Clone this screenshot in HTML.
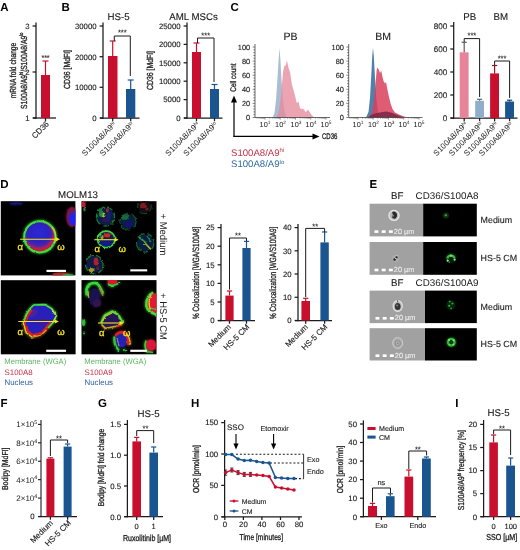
<!DOCTYPE html>
<html><head><meta charset="utf-8"><title>Figure</title>
<style>
html,body{margin:0;padding:0;background:#fff;}
body{width:520px;height:550px;overflow:hidden;}
svg{display:block;font-family:"Liberation Sans",sans-serif;opacity:0.9999;text-rendering:geometricPrecision;}
</style></head><body>
<svg width="520" height="550" viewBox="0 0 520 550">
<rect width="520" height="550" fill="#fff"/>
<text x="0.3" y="11.2" font-size="11.5" text-anchor="start" fill="#000" font-weight="bold" >A</text>
<line x1="36" y1="22.5" x2="36" y2="118.625" stroke="#1c1a1b" stroke-width="1.25" />
<line x1="32.6" y1="26" x2="36" y2="26" stroke="#1c1a1b" stroke-width="1.25" />
<text x="29.6" y="28.808" font-size="7.8" text-anchor="end" fill="#1c1a1b" font-weight="normal" stroke="#1c1a1b" stroke-width="0.12" >3</text>
<line x1="32.6" y1="72" x2="36" y2="72" stroke="#1c1a1b" stroke-width="1.25" />
<text x="29.6" y="74.80799999999999" font-size="7.8" text-anchor="end" fill="#1c1a1b" font-weight="normal" stroke="#1c1a1b" stroke-width="0.12" >2</text>
<line x1="32.6" y1="118" x2="36" y2="118" stroke="#1c1a1b" stroke-width="1.25" />
<text x="29.6" y="120.80799999999999" font-size="7.8" text-anchor="end" fill="#1c1a1b" font-weight="normal" stroke="#1c1a1b" stroke-width="0.12" >1</text>
<line x1="33" y1="118" x2="56" y2="118" stroke="#1c1a1b" stroke-width="1.25" />
<line x1="45.5" y1="118" x2="45.5" y2="121.2" stroke="#1c1a1b" stroke-width="1.25" />
<rect x="41" y="75" width="9" height="43" fill="#c8102e" />
<line x1="45.5" y1="75" x2="45.5" y2="61" stroke="#c8102e" stroke-width="1.2" />
<line x1="42.5" y1="61" x2="48.5" y2="61" stroke="#c8102e" stroke-width="1.2" />
<text x="45.5" y="60.2" font-size="7" text-anchor="middle" fill="#1c1a1b" font-weight="normal" stroke="#1c1a1b" stroke-width="0.12" >***</text>
<text x="49.5" y="124.5" font-size="8" text-anchor="end" fill="#1c1a1b" font-weight="normal" stroke="#1c1a1b" stroke-width="0.12" transform="rotate(-45 49.5 124.5)" >CD36</text>
<text transform="translate(15.9 70.5) rotate(-90) scale(0.7564 1)" x="0" y="0" font-size="8.8" text-anchor="middle" fill="#1c1a1b" stroke="#1c1a1b" stroke-width="0.3">mRNA fold change</text>
<text transform="translate(26.6 70.8) rotate(-90) scale(0.7641 1)" x="0" y="0" font-size="8.8" text-anchor="middle" fill="#1c1a1b" stroke="#1c1a1b" stroke-width="0.3">S100A8/A9<tspan font-size="5.46" dy="-3.17">hi</tspan><tspan dy="3.17">&#8203;</tspan>/S100A8/A9<tspan font-size="5.46" dy="-3.17">lo</tspan><tspan dy="3.17">&#8203;</tspan></text>
<text x="61.5" y="11.2" font-size="11.5" text-anchor="start" fill="#000" font-weight="bold" >B</text>
<text x="118.5" y="19.5" font-size="9.7" text-anchor="middle" fill="#1c1a1b" font-weight="normal" stroke="#1c1a1b" stroke-width="0.12" >HS-5</text>
<line x1="103" y1="22.5" x2="103" y2="118.625" stroke="#1c1a1b" stroke-width="1.25" />
<line x1="99.6" y1="26" x2="103" y2="26" stroke="#1c1a1b" stroke-width="1.25" />
<text x="96.6" y="28.808" font-size="7.8" text-anchor="end" fill="#1c1a1b" font-weight="normal" stroke="#1c1a1b" stroke-width="0.12" >30000</text>
<line x1="99.6" y1="56.7" x2="103" y2="56.7" stroke="#1c1a1b" stroke-width="1.25" />
<text x="96.6" y="59.508" font-size="7.8" text-anchor="end" fill="#1c1a1b" font-weight="normal" stroke="#1c1a1b" stroke-width="0.12" >20000</text>
<line x1="99.6" y1="87.3" x2="103" y2="87.3" stroke="#1c1a1b" stroke-width="1.25" />
<text x="96.6" y="90.108" font-size="7.8" text-anchor="end" fill="#1c1a1b" font-weight="normal" stroke="#1c1a1b" stroke-width="0.12" >10000</text>
<line x1="99.6" y1="118" x2="103" y2="118" stroke="#1c1a1b" stroke-width="1.25" />
<text x="96.6" y="120.80799999999999" font-size="7.8" text-anchor="end" fill="#1c1a1b" font-weight="normal" stroke="#1c1a1b" stroke-width="0.12" >0</text>
<line x1="100" y1="118" x2="139.5" y2="118" stroke="#1c1a1b" stroke-width="1.25" />
<line x1="112.7" y1="118" x2="112.7" y2="121.2" stroke="#1c1a1b" stroke-width="1.25" />
<line x1="130.7" y1="118" x2="130.7" y2="121.2" stroke="#1c1a1b" stroke-width="1.25" />
<rect x="108" y="56" width="9.5" height="62" fill="#c8102e" />
<line x1="112.7" y1="56" x2="112.7" y2="41" stroke="#c8102e" stroke-width="1.2" />
<line x1="109.7" y1="41" x2="115.7" y2="41" stroke="#c8102e" stroke-width="1.2" />
<rect x="126" y="89" width="9.3" height="29" fill="#1a5590" />
<line x1="130.7" y1="89" x2="130.7" y2="80" stroke="#1a5590" stroke-width="1.2" />
<line x1="127.69999999999999" y1="80" x2="133.7" y2="80" stroke="#1a5590" stroke-width="1.2" />
<polyline points="114.3,41 114.3,36 130.3,36 130.3,76" fill="none" stroke="#1c1a1b" stroke-width="1.0"/>
<text x="122.3" y="34.5" font-size="7.5" text-anchor="middle" fill="#1c1a1b" font-weight="normal" stroke="#1c1a1b" stroke-width="0.12" >***</text>
<text transform="translate(69.8 69.5) rotate(-90) scale(0.7819 1)" x="0" y="0" font-size="8.8" text-anchor="middle" fill="#1c1a1b" stroke="#1c1a1b" stroke-width="0.3">CD36 [MdFI]</text>
<text x="116.5" y="125" font-size="8" text-anchor="end" fill="#1c1a1b" transform="rotate(-45 116.5 125)">S100A8/A9<tspan font-size="5" dy="-2.5">hi</tspan></text>
<text x="134.5" y="125" font-size="8" text-anchor="end" fill="#1c1a1b" transform="rotate(-45 134.5 125)">S100A8/A9<tspan font-size="5" dy="-2.5">lo</tspan></text>
<text x="193.5" y="19.5" font-size="9.7" text-anchor="middle" fill="#1c1a1b" font-weight="normal" stroke="#1c1a1b" stroke-width="0.12" >AML MSCs</text>
<line x1="187" y1="22.5" x2="187" y2="118.625" stroke="#1c1a1b" stroke-width="1.25" />
<line x1="183.6" y1="26" x2="187" y2="26" stroke="#1c1a1b" stroke-width="1.25" />
<text x="180.6" y="28.808" font-size="7.8" text-anchor="end" fill="#1c1a1b" font-weight="normal" stroke="#1c1a1b" stroke-width="0.12" >25000</text>
<line x1="183.6" y1="44.4" x2="187" y2="44.4" stroke="#1c1a1b" stroke-width="1.25" />
<text x="180.6" y="47.208" font-size="7.8" text-anchor="end" fill="#1c1a1b" font-weight="normal" stroke="#1c1a1b" stroke-width="0.12" >20000</text>
<line x1="183.6" y1="62.8" x2="187" y2="62.8" stroke="#1c1a1b" stroke-width="1.25" />
<text x="180.6" y="65.608" font-size="7.8" text-anchor="end" fill="#1c1a1b" font-weight="normal" stroke="#1c1a1b" stroke-width="0.12" >15000</text>
<line x1="183.6" y1="81.2" x2="187" y2="81.2" stroke="#1c1a1b" stroke-width="1.25" />
<text x="180.6" y="84.00800000000001" font-size="7.8" text-anchor="end" fill="#1c1a1b" font-weight="normal" stroke="#1c1a1b" stroke-width="0.12" >10000</text>
<line x1="183.6" y1="99.6" x2="187" y2="99.6" stroke="#1c1a1b" stroke-width="1.25" />
<text x="180.6" y="102.40799999999999" font-size="7.8" text-anchor="end" fill="#1c1a1b" font-weight="normal" stroke="#1c1a1b" stroke-width="0.12" >5000</text>
<line x1="183.6" y1="118" x2="187" y2="118" stroke="#1c1a1b" stroke-width="1.25" />
<text x="180.6" y="120.80799999999999" font-size="7.8" text-anchor="end" fill="#1c1a1b" font-weight="normal" stroke="#1c1a1b" stroke-width="0.12" >0</text>
<line x1="184" y1="118" x2="222.5" y2="118" stroke="#1c1a1b" stroke-width="1.25" />
<line x1="196.5" y1="118" x2="196.5" y2="121.2" stroke="#1c1a1b" stroke-width="1.25" />
<line x1="214.5" y1="118" x2="214.5" y2="121.2" stroke="#1c1a1b" stroke-width="1.25" />
<rect x="192" y="52" width="9" height="66" fill="#c8102e" />
<line x1="196.5" y1="52" x2="196.5" y2="43" stroke="#c8102e" stroke-width="1.2" />
<line x1="193.5" y1="43" x2="199.5" y2="43" stroke="#c8102e" stroke-width="1.2" />
<rect x="210" y="89" width="9" height="29" fill="#1a5590" />
<line x1="214.5" y1="89" x2="214.5" y2="84.5" stroke="#1a5590" stroke-width="1.2" />
<line x1="211.5" y1="84.5" x2="217.5" y2="84.5" stroke="#1a5590" stroke-width="1.2" />
<polyline points="197.5,43 197.5,38 214,38 214,82" fill="none" stroke="#1c1a1b" stroke-width="1.0"/>
<text x="205.7" y="37.5" font-size="7.5" text-anchor="middle" fill="#1c1a1b" font-weight="normal" stroke="#1c1a1b" stroke-width="0.12" >***</text>
<text transform="translate(152.6 70.5) rotate(-90) scale(0.7819 1)" x="0" y="0" font-size="8.8" text-anchor="middle" fill="#1c1a1b" stroke="#1c1a1b" stroke-width="0.3">CD36 [MdFI]</text>
<text x="200" y="125" font-size="8" text-anchor="end" fill="#1c1a1b" transform="rotate(-45 200 125)">S100A8/A9<tspan font-size="5" dy="-2.5">hi</tspan></text>
<text x="218" y="125" font-size="8" text-anchor="end" fill="#1c1a1b" transform="rotate(-45 218 125)">S100A8/A9<tspan font-size="5" dy="-2.5">lo</tspan></text>
<text x="230.5" y="11.2" font-size="11.5" text-anchor="start" fill="#000" font-weight="bold" >C</text>
<text x="290.5" y="40" font-size="10.5" text-anchor="middle" fill="#1c1a1b" font-weight="normal" stroke="#1c1a1b" stroke-width="0.12" >PB</text>
<polygon points="272.5,117.5 274.5,113 276,100 277.5,78 278.7,58 279.5,48 280.3,58 281.5,80 283,100 284.5,111 286.5,117.5" fill="#a9bfd1"/>
<polygon points="276.5,117.5 278.5,113 280.5,100 282,84 283,72 284.5,65.5 285.5,66 287,60.5 288.5,67.8 290.2,72.7 291.8,84 293.5,90 295,95.6 296.7,103 298.4,101.4 300,108 301.5,109 303.3,108.7 305.7,112 308.2,109.6 309.5,112 310.6,113.6 313,116.6 314.5,117.5" fill="#e58a9c" fill-opacity="0.78"/>
<line x1="255" y1="44" x2="255" y2="117.5" stroke="#444" stroke-width="0.8" />
<line x1="255" y1="117.5" x2="330" y2="117.5" stroke="#444" stroke-width="0.8" />
<line x1="252.6" y1="117.5" x2="255" y2="117.5" stroke="#333" stroke-width="0.6" />
<line x1="253.4" y1="114.68" x2="255" y2="114.68" stroke="#333" stroke-width="0.6" />
<line x1="253.4" y1="111.86" x2="255" y2="111.86" stroke="#333" stroke-width="0.6" />
<line x1="253.4" y1="109.04" x2="255" y2="109.04" stroke="#333" stroke-width="0.6" />
<line x1="253.4" y1="106.22" x2="255" y2="106.22" stroke="#333" stroke-width="0.6" />
<line x1="252.6" y1="103.4" x2="255" y2="103.4" stroke="#333" stroke-width="0.6" />
<line x1="253.4" y1="100.58" x2="255" y2="100.58" stroke="#333" stroke-width="0.6" />
<line x1="253.4" y1="97.76" x2="255" y2="97.76" stroke="#333" stroke-width="0.6" />
<line x1="253.4" y1="94.94" x2="255" y2="94.94" stroke="#333" stroke-width="0.6" />
<line x1="253.4" y1="92.12" x2="255" y2="92.12" stroke="#333" stroke-width="0.6" />
<line x1="252.6" y1="89.3" x2="255" y2="89.3" stroke="#333" stroke-width="0.6" />
<line x1="253.4" y1="86.48" x2="255" y2="86.48" stroke="#333" stroke-width="0.6" />
<line x1="253.4" y1="83.66" x2="255" y2="83.66" stroke="#333" stroke-width="0.6" />
<line x1="253.4" y1="80.84" x2="255" y2="80.84" stroke="#333" stroke-width="0.6" />
<line x1="253.4" y1="78.02" x2="255" y2="78.02" stroke="#333" stroke-width="0.6" />
<line x1="252.6" y1="75.2" x2="255" y2="75.2" stroke="#333" stroke-width="0.6" />
<line x1="253.4" y1="72.38" x2="255" y2="72.38" stroke="#333" stroke-width="0.6" />
<line x1="253.4" y1="69.56" x2="255" y2="69.56" stroke="#333" stroke-width="0.6" />
<line x1="253.4" y1="66.74" x2="255" y2="66.74" stroke="#333" stroke-width="0.6" />
<line x1="253.4" y1="63.92" x2="255" y2="63.92" stroke="#333" stroke-width="0.6" />
<line x1="252.6" y1="61.1" x2="255" y2="61.1" stroke="#333" stroke-width="0.6" />
<line x1="253.4" y1="58.28" x2="255" y2="58.28" stroke="#333" stroke-width="0.6" />
<line x1="253.4" y1="55.46" x2="255" y2="55.46" stroke="#333" stroke-width="0.6" />
<line x1="253.4" y1="52.64" x2="255" y2="52.64" stroke="#333" stroke-width="0.6" />
<line x1="253.4" y1="49.82" x2="255" y2="49.82" stroke="#333" stroke-width="0.6" />
<line x1="252.6" y1="47.0" x2="255" y2="47.0" stroke="#333" stroke-width="0.6" />
<text x="250.2" y="120.2" font-size="7.4" text-anchor="end" fill="#1c1a1b" font-weight="normal" stroke="#1c1a1b" stroke-width="0.12" >0</text>
<text x="250.2" y="106.1" font-size="7.4" text-anchor="end" fill="#1c1a1b" font-weight="normal" stroke="#1c1a1b" stroke-width="0.12" >20</text>
<text x="250.2" y="92.0" font-size="7.4" text-anchor="end" fill="#1c1a1b" font-weight="normal" stroke="#1c1a1b" stroke-width="0.12" >40</text>
<text x="250.2" y="77.9" font-size="7.4" text-anchor="end" fill="#1c1a1b" font-weight="normal" stroke="#1c1a1b" stroke-width="0.12" >60</text>
<text x="250.2" y="63.8" font-size="7.4" text-anchor="end" fill="#1c1a1b" font-weight="normal" stroke="#1c1a1b" stroke-width="0.12" >80</text>
<text x="250.2" y="49.7" font-size="7.4" text-anchor="end" fill="#1c1a1b" font-weight="normal" stroke="#1c1a1b" stroke-width="0.12" >100</text>
<line x1="257.03" y1="117.5" x2="257.03" y2="118.7" stroke="#444" stroke-width="0.5" />
<line x1="258.93" y1="117.5" x2="258.93" y2="118.7" stroke="#444" stroke-width="0.5" />
<line x1="260.41" y1="117.5" x2="260.41" y2="118.7" stroke="#444" stroke-width="0.5" />
<line x1="261.62" y1="117.5" x2="261.62" y2="118.7" stroke="#444" stroke-width="0.5" />
<line x1="262.64" y1="117.5" x2="262.64" y2="118.7" stroke="#444" stroke-width="0.5" />
<line x1="263.52" y1="117.5" x2="263.52" y2="118.7" stroke="#444" stroke-width="0.5" />
<line x1="264.3" y1="117.5" x2="264.3" y2="118.7" stroke="#444" stroke-width="0.5" />
<line x1="265.0" y1="117.5" x2="265.0" y2="119.7" stroke="#444" stroke-width="0.5" />
<line x1="269.59" y1="117.5" x2="269.59" y2="118.7" stroke="#444" stroke-width="0.5" />
<line x1="272.28" y1="117.5" x2="272.28" y2="118.7" stroke="#444" stroke-width="0.5" />
<line x1="274.18" y1="117.5" x2="274.18" y2="118.7" stroke="#444" stroke-width="0.5" />
<line x1="275.66" y1="117.5" x2="275.66" y2="118.7" stroke="#444" stroke-width="0.5" />
<line x1="276.87" y1="117.5" x2="276.87" y2="118.7" stroke="#444" stroke-width="0.5" />
<line x1="277.89" y1="117.5" x2="277.89" y2="118.7" stroke="#444" stroke-width="0.5" />
<line x1="278.77" y1="117.5" x2="278.77" y2="118.7" stroke="#444" stroke-width="0.5" />
<line x1="279.55" y1="117.5" x2="279.55" y2="118.7" stroke="#444" stroke-width="0.5" />
<line x1="280.25" y1="117.5" x2="280.25" y2="119.7" stroke="#444" stroke-width="0.5" />
<line x1="284.84" y1="117.5" x2="284.84" y2="118.7" stroke="#444" stroke-width="0.5" />
<line x1="287.53" y1="117.5" x2="287.53" y2="118.7" stroke="#444" stroke-width="0.5" />
<line x1="289.43" y1="117.5" x2="289.43" y2="118.7" stroke="#444" stroke-width="0.5" />
<line x1="290.91" y1="117.5" x2="290.91" y2="118.7" stroke="#444" stroke-width="0.5" />
<line x1="292.12" y1="117.5" x2="292.12" y2="118.7" stroke="#444" stroke-width="0.5" />
<line x1="293.14" y1="117.5" x2="293.14" y2="118.7" stroke="#444" stroke-width="0.5" />
<line x1="294.02" y1="117.5" x2="294.02" y2="118.7" stroke="#444" stroke-width="0.5" />
<line x1="294.8" y1="117.5" x2="294.8" y2="118.7" stroke="#444" stroke-width="0.5" />
<line x1="295.5" y1="117.5" x2="295.5" y2="119.7" stroke="#444" stroke-width="0.5" />
<line x1="300.09" y1="117.5" x2="300.09" y2="118.7" stroke="#444" stroke-width="0.5" />
<line x1="302.78" y1="117.5" x2="302.78" y2="118.7" stroke="#444" stroke-width="0.5" />
<line x1="304.68" y1="117.5" x2="304.68" y2="118.7" stroke="#444" stroke-width="0.5" />
<line x1="306.16" y1="117.5" x2="306.16" y2="118.7" stroke="#444" stroke-width="0.5" />
<line x1="307.37" y1="117.5" x2="307.37" y2="118.7" stroke="#444" stroke-width="0.5" />
<line x1="308.39" y1="117.5" x2="308.39" y2="118.7" stroke="#444" stroke-width="0.5" />
<line x1="309.27" y1="117.5" x2="309.27" y2="118.7" stroke="#444" stroke-width="0.5" />
<line x1="310.05" y1="117.5" x2="310.05" y2="118.7" stroke="#444" stroke-width="0.5" />
<line x1="310.75" y1="117.5" x2="310.75" y2="119.7" stroke="#444" stroke-width="0.5" />
<line x1="315.34" y1="117.5" x2="315.34" y2="118.7" stroke="#444" stroke-width="0.5" />
<line x1="318.03" y1="117.5" x2="318.03" y2="118.7" stroke="#444" stroke-width="0.5" />
<line x1="319.93" y1="117.5" x2="319.93" y2="118.7" stroke="#444" stroke-width="0.5" />
<line x1="321.41" y1="117.5" x2="321.41" y2="118.7" stroke="#444" stroke-width="0.5" />
<line x1="322.62" y1="117.5" x2="322.62" y2="118.7" stroke="#444" stroke-width="0.5" />
<line x1="323.64" y1="117.5" x2="323.64" y2="118.7" stroke="#444" stroke-width="0.5" />
<line x1="324.52" y1="117.5" x2="324.52" y2="118.7" stroke="#444" stroke-width="0.5" />
<line x1="325.3" y1="117.5" x2="325.3" y2="118.7" stroke="#444" stroke-width="0.5" />
<line x1="326.0" y1="117.5" x2="326.0" y2="119.7" stroke="#444" stroke-width="0.5" />
<text x="265" y="126.8" font-size="7.3" text-anchor="middle" fill="#1c1a1b">10<tspan font-size="4.8" dy="-3">1</tspan></text>
<text x="280.5" y="126.8" font-size="7.3" text-anchor="middle" fill="#1c1a1b">10<tspan font-size="4.8" dy="-3">2</tspan></text>
<text x="296" y="126.8" font-size="7.3" text-anchor="middle" fill="#1c1a1b">10<tspan font-size="4.8" dy="-3">3</tspan></text>
<text x="311" y="126.8" font-size="7.3" text-anchor="middle" fill="#1c1a1b">10<tspan font-size="4.8" dy="-3">4</tspan></text>
<text x="326" y="126.8" font-size="7.3" text-anchor="middle" fill="#1c1a1b">10<tspan font-size="4.8" dy="-3">5</tspan></text>
<text x="383" y="40" font-size="10.5" text-anchor="middle" fill="#1c1a1b" font-weight="normal" stroke="#1c1a1b" stroke-width="0.12" >BM</text>
<polygon points="366,117.5 368.5,112 370,98 371.3,75 372.3,55 373,48 373.8,56 375,78 376.5,100 378,112 380,117.5" fill="#4f81ab"/>
<polygon points="369.5,117.5 372,112 374,100 375.5,84 376.7,70 377.5,67.5 378.7,69.5 380,73 381.2,70.5 382.3,76 383.5,81 385,83.5 386,82 387.5,90 389,97 390.5,103 392.5,109 395,112.5 399,114.5 404,116.5 408,117.5" fill="#d8405c" fill-opacity="0.85"/>
<polygon points="368,117.5 371,115 375,113.5 380,112.5 386,111.5 391,112.5 396,114.5 401,116.5 404,117.5" fill="#7b2345" fill-opacity="0.85"/>
<line x1="348.7" y1="44" x2="348.7" y2="117.5" stroke="#444" stroke-width="0.8" />
<line x1="348.7" y1="117.5" x2="422.5" y2="117.5" stroke="#444" stroke-width="0.8" />
<line x1="346.3" y1="117.5" x2="348.7" y2="117.5" stroke="#333" stroke-width="0.6" />
<line x1="347.09999999999997" y1="114.68" x2="348.7" y2="114.68" stroke="#333" stroke-width="0.6" />
<line x1="347.09999999999997" y1="111.86" x2="348.7" y2="111.86" stroke="#333" stroke-width="0.6" />
<line x1="347.09999999999997" y1="109.04" x2="348.7" y2="109.04" stroke="#333" stroke-width="0.6" />
<line x1="347.09999999999997" y1="106.22" x2="348.7" y2="106.22" stroke="#333" stroke-width="0.6" />
<line x1="346.3" y1="103.4" x2="348.7" y2="103.4" stroke="#333" stroke-width="0.6" />
<line x1="347.09999999999997" y1="100.58" x2="348.7" y2="100.58" stroke="#333" stroke-width="0.6" />
<line x1="347.09999999999997" y1="97.76" x2="348.7" y2="97.76" stroke="#333" stroke-width="0.6" />
<line x1="347.09999999999997" y1="94.94" x2="348.7" y2="94.94" stroke="#333" stroke-width="0.6" />
<line x1="347.09999999999997" y1="92.12" x2="348.7" y2="92.12" stroke="#333" stroke-width="0.6" />
<line x1="346.3" y1="89.3" x2="348.7" y2="89.3" stroke="#333" stroke-width="0.6" />
<line x1="347.09999999999997" y1="86.48" x2="348.7" y2="86.48" stroke="#333" stroke-width="0.6" />
<line x1="347.09999999999997" y1="83.66" x2="348.7" y2="83.66" stroke="#333" stroke-width="0.6" />
<line x1="347.09999999999997" y1="80.84" x2="348.7" y2="80.84" stroke="#333" stroke-width="0.6" />
<line x1="347.09999999999997" y1="78.02" x2="348.7" y2="78.02" stroke="#333" stroke-width="0.6" />
<line x1="346.3" y1="75.2" x2="348.7" y2="75.2" stroke="#333" stroke-width="0.6" />
<line x1="347.09999999999997" y1="72.38" x2="348.7" y2="72.38" stroke="#333" stroke-width="0.6" />
<line x1="347.09999999999997" y1="69.56" x2="348.7" y2="69.56" stroke="#333" stroke-width="0.6" />
<line x1="347.09999999999997" y1="66.74" x2="348.7" y2="66.74" stroke="#333" stroke-width="0.6" />
<line x1="347.09999999999997" y1="63.92" x2="348.7" y2="63.92" stroke="#333" stroke-width="0.6" />
<line x1="346.3" y1="61.1" x2="348.7" y2="61.1" stroke="#333" stroke-width="0.6" />
<line x1="347.09999999999997" y1="58.28" x2="348.7" y2="58.28" stroke="#333" stroke-width="0.6" />
<line x1="347.09999999999997" y1="55.46" x2="348.7" y2="55.46" stroke="#333" stroke-width="0.6" />
<line x1="347.09999999999997" y1="52.64" x2="348.7" y2="52.64" stroke="#333" stroke-width="0.6" />
<line x1="347.09999999999997" y1="49.82" x2="348.7" y2="49.82" stroke="#333" stroke-width="0.6" />
<line x1="346.3" y1="47.0" x2="348.7" y2="47.0" stroke="#333" stroke-width="0.6" />
<text x="343.9" y="120.2" font-size="7.4" text-anchor="end" fill="#1c1a1b" font-weight="normal" stroke="#1c1a1b" stroke-width="0.12" >0</text>
<text x="343.9" y="106.1" font-size="7.4" text-anchor="end" fill="#1c1a1b" font-weight="normal" stroke="#1c1a1b" stroke-width="0.12" >20</text>
<text x="343.9" y="92.0" font-size="7.4" text-anchor="end" fill="#1c1a1b" font-weight="normal" stroke="#1c1a1b" stroke-width="0.12" >40</text>
<text x="343.9" y="77.9" font-size="7.4" text-anchor="end" fill="#1c1a1b" font-weight="normal" stroke="#1c1a1b" stroke-width="0.12" >60</text>
<text x="343.9" y="63.8" font-size="7.4" text-anchor="end" fill="#1c1a1b" font-weight="normal" stroke="#1c1a1b" stroke-width="0.12" >80</text>
<text x="343.9" y="49.7" font-size="7.4" text-anchor="end" fill="#1c1a1b" font-weight="normal" stroke="#1c1a1b" stroke-width="0.12" >100</text>
<line x1="350.03" y1="117.5" x2="350.03" y2="118.7" stroke="#444" stroke-width="0.5" />
<line x1="351.93" y1="117.5" x2="351.93" y2="118.7" stroke="#444" stroke-width="0.5" />
<line x1="353.41" y1="117.5" x2="353.41" y2="118.7" stroke="#444" stroke-width="0.5" />
<line x1="354.62" y1="117.5" x2="354.62" y2="118.7" stroke="#444" stroke-width="0.5" />
<line x1="355.64" y1="117.5" x2="355.64" y2="118.7" stroke="#444" stroke-width="0.5" />
<line x1="356.52" y1="117.5" x2="356.52" y2="118.7" stroke="#444" stroke-width="0.5" />
<line x1="357.3" y1="117.5" x2="357.3" y2="118.7" stroke="#444" stroke-width="0.5" />
<line x1="358.0" y1="117.5" x2="358.0" y2="119.7" stroke="#444" stroke-width="0.5" />
<line x1="362.59" y1="117.5" x2="362.59" y2="118.7" stroke="#444" stroke-width="0.5" />
<line x1="365.28" y1="117.5" x2="365.28" y2="118.7" stroke="#444" stroke-width="0.5" />
<line x1="367.18" y1="117.5" x2="367.18" y2="118.7" stroke="#444" stroke-width="0.5" />
<line x1="368.66" y1="117.5" x2="368.66" y2="118.7" stroke="#444" stroke-width="0.5" />
<line x1="369.87" y1="117.5" x2="369.87" y2="118.7" stroke="#444" stroke-width="0.5" />
<line x1="370.89" y1="117.5" x2="370.89" y2="118.7" stroke="#444" stroke-width="0.5" />
<line x1="371.77" y1="117.5" x2="371.77" y2="118.7" stroke="#444" stroke-width="0.5" />
<line x1="372.55" y1="117.5" x2="372.55" y2="118.7" stroke="#444" stroke-width="0.5" />
<line x1="373.25" y1="117.5" x2="373.25" y2="119.7" stroke="#444" stroke-width="0.5" />
<line x1="377.84" y1="117.5" x2="377.84" y2="118.7" stroke="#444" stroke-width="0.5" />
<line x1="380.53" y1="117.5" x2="380.53" y2="118.7" stroke="#444" stroke-width="0.5" />
<line x1="382.43" y1="117.5" x2="382.43" y2="118.7" stroke="#444" stroke-width="0.5" />
<line x1="383.91" y1="117.5" x2="383.91" y2="118.7" stroke="#444" stroke-width="0.5" />
<line x1="385.12" y1="117.5" x2="385.12" y2="118.7" stroke="#444" stroke-width="0.5" />
<line x1="386.14" y1="117.5" x2="386.14" y2="118.7" stroke="#444" stroke-width="0.5" />
<line x1="387.02" y1="117.5" x2="387.02" y2="118.7" stroke="#444" stroke-width="0.5" />
<line x1="387.8" y1="117.5" x2="387.8" y2="118.7" stroke="#444" stroke-width="0.5" />
<line x1="388.5" y1="117.5" x2="388.5" y2="119.7" stroke="#444" stroke-width="0.5" />
<line x1="393.09" y1="117.5" x2="393.09" y2="118.7" stroke="#444" stroke-width="0.5" />
<line x1="395.78" y1="117.5" x2="395.78" y2="118.7" stroke="#444" stroke-width="0.5" />
<line x1="397.68" y1="117.5" x2="397.68" y2="118.7" stroke="#444" stroke-width="0.5" />
<line x1="399.16" y1="117.5" x2="399.16" y2="118.7" stroke="#444" stroke-width="0.5" />
<line x1="400.37" y1="117.5" x2="400.37" y2="118.7" stroke="#444" stroke-width="0.5" />
<line x1="401.39" y1="117.5" x2="401.39" y2="118.7" stroke="#444" stroke-width="0.5" />
<line x1="402.27" y1="117.5" x2="402.27" y2="118.7" stroke="#444" stroke-width="0.5" />
<line x1="403.05" y1="117.5" x2="403.05" y2="118.7" stroke="#444" stroke-width="0.5" />
<line x1="403.75" y1="117.5" x2="403.75" y2="119.7" stroke="#444" stroke-width="0.5" />
<line x1="408.34" y1="117.5" x2="408.34" y2="118.7" stroke="#444" stroke-width="0.5" />
<line x1="411.03" y1="117.5" x2="411.03" y2="118.7" stroke="#444" stroke-width="0.5" />
<line x1="412.93" y1="117.5" x2="412.93" y2="118.7" stroke="#444" stroke-width="0.5" />
<line x1="414.41" y1="117.5" x2="414.41" y2="118.7" stroke="#444" stroke-width="0.5" />
<line x1="415.62" y1="117.5" x2="415.62" y2="118.7" stroke="#444" stroke-width="0.5" />
<line x1="416.64" y1="117.5" x2="416.64" y2="118.7" stroke="#444" stroke-width="0.5" />
<line x1="417.52" y1="117.5" x2="417.52" y2="118.7" stroke="#444" stroke-width="0.5" />
<line x1="418.3" y1="117.5" x2="418.3" y2="118.7" stroke="#444" stroke-width="0.5" />
<line x1="419.0" y1="117.5" x2="419.0" y2="119.7" stroke="#444" stroke-width="0.5" />
<text x="358" y="126.8" font-size="7.3" text-anchor="middle" fill="#1c1a1b">10<tspan font-size="4.8" dy="-3">1</tspan></text>
<text x="373.5" y="126.8" font-size="7.3" text-anchor="middle" fill="#1c1a1b">10<tspan font-size="4.8" dy="-3">2</tspan></text>
<text x="389" y="126.8" font-size="7.3" text-anchor="middle" fill="#1c1a1b">10<tspan font-size="4.8" dy="-3">3</tspan></text>
<text x="404" y="126.8" font-size="7.3" text-anchor="middle" fill="#1c1a1b">10<tspan font-size="4.8" dy="-3">4</tspan></text>
<text x="419" y="126.8" font-size="7.3" text-anchor="middle" fill="#1c1a1b">10<tspan font-size="4.8" dy="-3">5</tspan></text>
<text transform="translate(235.7 77.5) rotate(-90) scale(0.7761 1)" x="0" y="0" font-size="8.2" text-anchor="middle" fill="#1c1a1b" stroke="#1c1a1b" stroke-width="0.3">Cell count</text>
<line x1="234" y1="137" x2="234" y2="101" stroke="#000" stroke-width="1.2" />
<polygon points="234,95.5 231,102.5 237,102.5" fill="#000"/>
<line x1="233.4" y1="136.4" x2="314" y2="136.4" stroke="#000" stroke-width="1.2" />
<polygon points="319.5,136.4 312.5,133.4 312.5,139.4" fill="#000"/>
<text transform="translate(322 139.3) rotate(0) scale(0.7393 1)" x="0" y="0" font-size="8.2" text-anchor="start" fill="#1c1a1b" stroke="#1c1a1b" stroke-width="0.3">CD36</text>
<text x="231" y="155.7" font-size="9.6" fill="#c4304a">S100A8/A9<tspan font-size="6" dy="-3.3">hi</tspan></text>
<text x="231" y="167.3" font-size="9.6" fill="#2f6aa0">S100A8/A9<tspan font-size="6" dy="-3.3">lo</tspan></text>
<text x="469.7" y="19.5" font-size="9.7" text-anchor="middle" fill="#1c1a1b" font-weight="normal" stroke="#1c1a1b" stroke-width="0.12" >PB</text>
<text x="500.8" y="19.5" font-size="9.7" text-anchor="middle" fill="#1c1a1b" font-weight="normal" stroke="#1c1a1b" stroke-width="0.12" >BM</text>
<line x1="453.7" y1="22" x2="453.7" y2="118.625" stroke="#1c1a1b" stroke-width="1.25" />
<line x1="450.3" y1="26" x2="453.7" y2="26" stroke="#1c1a1b" stroke-width="1.25" />
<text x="447.3" y="28.916" font-size="8.1" text-anchor="end" fill="#1c1a1b" font-weight="normal" stroke="#1c1a1b" stroke-width="0.12" >800</text>
<line x1="450.3" y1="49" x2="453.7" y2="49" stroke="#1c1a1b" stroke-width="1.25" />
<text x="447.3" y="51.916" font-size="8.1" text-anchor="end" fill="#1c1a1b" font-weight="normal" stroke="#1c1a1b" stroke-width="0.12" >600</text>
<line x1="450.3" y1="72" x2="453.7" y2="72" stroke="#1c1a1b" stroke-width="1.25" />
<text x="447.3" y="74.916" font-size="8.1" text-anchor="end" fill="#1c1a1b" font-weight="normal" stroke="#1c1a1b" stroke-width="0.12" >400</text>
<line x1="450.3" y1="95" x2="453.7" y2="95" stroke="#1c1a1b" stroke-width="1.25" />
<text x="447.3" y="97.916" font-size="8.1" text-anchor="end" fill="#1c1a1b" font-weight="normal" stroke="#1c1a1b" stroke-width="0.12" >200</text>
<line x1="450.3" y1="118" x2="453.7" y2="118" stroke="#1c1a1b" stroke-width="1.25" />
<text x="447.3" y="120.916" font-size="8.1" text-anchor="end" fill="#1c1a1b" font-weight="normal" stroke="#1c1a1b" stroke-width="0.12" >0</text>
<line x1="450.5" y1="118" x2="517.5" y2="118" stroke="#1c1a1b" stroke-width="1.25" />
<line x1="464.2" y1="118" x2="464.2" y2="121.2" stroke="#1c1a1b" stroke-width="1.25" />
<line x1="479.6" y1="118" x2="479.6" y2="121.2" stroke="#1c1a1b" stroke-width="1.25" />
<line x1="494.6" y1="118" x2="494.6" y2="121.2" stroke="#1c1a1b" stroke-width="1.25" />
<line x1="509.6" y1="118" x2="509.6" y2="121.2" stroke="#1c1a1b" stroke-width="1.25" />
<rect x="459.7" y="52.3" width="8.9" height="65.7" fill="#e8849a" />
<line x1="464.2" y1="52.3" x2="464.2" y2="42.3" stroke="#6b5560" stroke-width="1.2" />
<line x1="461.59999999999997" y1="42.3" x2="466.8" y2="42.3" stroke="#6b5560" stroke-width="1.2" />
<rect x="475.2" y="100.8" width="8.8" height="17.2" fill="#8faec9" />
<line x1="479.6" y1="100.8" x2="479.6" y2="99.3" stroke="#5a6a78" stroke-width="1.2" />
<line x1="477.0" y1="99.3" x2="482.20000000000005" y2="99.3" stroke="#5a6a78" stroke-width="1.2" />
<rect x="490.1" y="73.4" width="8.9" height="44.6" fill="#c8102e" />
<line x1="494.6" y1="73.4" x2="494.6" y2="65.5" stroke="#8c1426" stroke-width="1.2" />
<line x1="492.0" y1="65.5" x2="497.20000000000005" y2="65.5" stroke="#8c1426" stroke-width="1.2" />
<rect x="505.1" y="101.5" width="8.9" height="16.5" fill="#1a5590" />
<line x1="509.6" y1="101.5" x2="509.6" y2="100.2" stroke="#173f6a" stroke-width="1.2" />
<line x1="507.0" y1="100.2" x2="512.2" y2="100.2" stroke="#173f6a" stroke-width="1.2" />
<polyline points="464.2,42 464.2,38.6 479.6,38.6 479.6,97" fill="none" stroke="#1c1a1b" stroke-width="1.0"/>
<text x="471.9" y="38.3" font-size="7.5" text-anchor="middle" fill="#1c1a1b" font-weight="normal" stroke="#1c1a1b" stroke-width="0.12" >***</text>
<polyline points="494.6,65 494.6,61 509.6,61 509.6,98" fill="none" stroke="#1c1a1b" stroke-width="1.0"/>
<text x="502.1" y="60.7" font-size="7.5" text-anchor="middle" fill="#1c1a1b" font-weight="normal" stroke="#1c1a1b" stroke-width="0.12" >***</text>
<text x="468" y="125" font-size="8" text-anchor="end" fill="#1c1a1b" transform="rotate(-45 468 125)">S100A8/A9<tspan font-size="5" dy="-2.5">hi</tspan></text>
<text x="483.5" y="125" font-size="8" text-anchor="end" fill="#1c1a1b" transform="rotate(-45 483.5 125)">S100A8/A9<tspan font-size="5" dy="-2.5">lo</tspan></text>
<text x="498.5" y="125" font-size="8" text-anchor="end" fill="#1c1a1b" transform="rotate(-45 498.5 125)">S100A8/A9<tspan font-size="5" dy="-2.5">hi</tspan></text>
<text x="513.5" y="125" font-size="8" text-anchor="end" fill="#1c1a1b" transform="rotate(-45 513.5 125)">S100A8/A9<tspan font-size="5" dy="-2.5">lo</tspan></text>
<text x="0.3" y="188.3" font-size="11.5" text-anchor="start" fill="#000" font-weight="bold" >D</text>
<text x="78" y="197.5" font-size="9.7" text-anchor="middle" fill="#1c1a1b" font-weight="normal" stroke="#1c1a1b" stroke-width="0.12" >MOLM13</text>
<defs>
<filter id="b1" x="-20%" y="-20%" width="140%" height="140%"><feGaussianBlur stdDeviation="0.9"/></filter>
<filter id="b2" x="-20%" y="-20%" width="140%" height="140%"><feGaussianBlur stdDeviation="1.5"/></filter>
<filter id="b05" x="-20%" y="-20%" width="140%" height="140%"><feGaussianBlur stdDeviation="0.5"/></filter>
<filter id="rough" x="-5%" y="-5%" width="110%" height="110%" color-interpolation-filters="sRGB"><feTurbulence type="fractalNoise" baseFrequency="0.35" numOctaves="2" seed="3" result="n"/><feDisplacementMap in="SourceGraphic" in2="n" scale="2.2" xChannelSelector="R" yChannelSelector="G" result="d"/><feGaussianBlur in="d" stdDeviation="1.4" result="g"/><feGaussianBlur in="d" stdDeviation="0.6" result="s"/><feMerge><feMergeNode in="g"/><feMergeNode in="s"/></feMerge></filter>
<filter id="rough2" x="-5%" y="-5%" width="110%" height="110%" color-interpolation-filters="sRGB"><feTurbulence type="fractalNoise" baseFrequency="0.3" numOctaves="2" seed="7" result="n"/><feDisplacementMap in="SourceGraphic" in2="n" scale="3" xChannelSelector="R" yChannelSelector="G" result="d"/><feGaussianBlur in="d" stdDeviation="0.75"/></filter>
<radialGradient id="nuc1" cx="0.5" cy="0.42" r="0.55"><stop offset="0" stop-color="#2c28d8"/><stop offset="0.7" stop-color="#2c22c0"/><stop offset="1" stop-color="#5a2498"/></radialGradient>
<clipPath id="c1"><rect x="0.8" y="201.2" width="74.8" height="74.2"/></clipPath>
<clipPath id="c2"><rect x="81.5" y="201.2" width="75" height="74.2"/></clipPath>
<clipPath id="c3"><rect x="0.8" y="280.2" width="74.8" height="74.1"/></clipPath>
<clipPath id="c4"><rect x="81.5" y="280.1" width="75" height="74.2"/></clipPath>
</defs>
<rect x="0.8" y="201.2" width="74.6" height="74.2" fill="#000" />
<g clip-path="url(#c1)"><g filter="url(#rough)">
<ellipse cx="16" cy="203.6" rx="7" ry="1.3" fill="#1c1c8c" opacity="0.7"/>
<ellipse cx="72" cy="217" rx="5.6" ry="10" fill="#7a1848" opacity="0.9"/>
<ellipse cx="73.2" cy="218.8" rx="4.2" ry="6.6" fill="#2420f0"/>
<circle cx="39.8" cy="236.8" r="15.2" fill="#c81c3c"/>
<ellipse cx="38.8" cy="235.3" rx="14.4" ry="13.2" fill="#8a2488"/>
<ellipse cx="38.6" cy="234.6" rx="13.9" ry="12.3" fill="url(#nuc1)"/>
<circle cx="39.8" cy="236.8" r="15.6" fill="none" stroke="#3be03c" stroke-width="2"/>
<path d="M52,227 A15.6,15.6 0 0 1 54.5,243" fill="none" stroke="#b8d838" stroke-width="1.2"/>
<ellipse cx="61" cy="275" rx="9" ry="2.4" fill="#a82828"/>
<ellipse cx="68" cy="275.6" rx="6" ry="1.6" fill="#3aa83a"/>
</g></g>
<line x1="20" y1="239.3" x2="57" y2="239.3" stroke="#f5e61e" stroke-width="1.1" />
<polygon points="60,239.3 56,237.3 56,241.3" fill="#f5e61e"/>
<text x="20.3" y="250.3" font-size="9.5" text-anchor="middle" fill="#f5e61e" font-weight="normal" stroke="#f5e61e" stroke-width="0.3">α</text>
<text x="61" y="250.3" font-size="9.5" text-anchor="middle" fill="#f5e61e" font-weight="normal" stroke="#f5e61e" stroke-width="0.3">ω</text>
<rect x="46.5" y="269.8" width="19.5" height="2.2" fill="#fff" />
<rect x="81.5" y="201.2" width="75" height="74.2" fill="#000" />
<g clip-path="url(#c2)"><g filter="url(#rough2)">
<ellipse cx="83.5" cy="204" rx="2.2" ry="3.6" fill="#c02030"/><ellipse cx="84.5" cy="209" rx="1.2" ry="2.5" fill="#2a8a2a"/>
<ellipse cx="105.5" cy="216.5" rx="8.2" ry="8.7" fill="#0c1c4a" opacity="1.0"/>
<ellipse cx="103.3" cy="215" rx="2.2" ry="2.4" fill="#a8b828"/><ellipse cx="101" cy="213" rx="2.2" ry="4" fill="#22903a" opacity="0.8"/><ellipse cx="107.5" cy="210.5" rx="1.5" ry="2.2" fill="#b02428"/><ellipse cx="106" cy="220" rx="3.5" ry="2" fill="#3a1458" opacity="0.8"/><ellipse cx="109" cy="216" rx="2.5" ry="4" fill="#14247a" opacity="0.8"/>
<ellipse cx="105.5" cy="216.5" rx="9" ry="9.5" fill="none" stroke="#1f8a38" stroke-width="1.4" opacity="0.85" stroke-dasharray="9 2 6 3 12 2"/>
<ellipse cx="128" cy="221.8" rx="7.2" ry="7.500000000000001" fill="#0a1e40" opacity="1.0"/>
<ellipse cx="125" cy="217.5" rx="4.2" ry="2.4" fill="#1a7a3a" opacity="0.8"/><ellipse cx="129" cy="224" rx="4" ry="4" fill="#10146a"/>
<ellipse cx="128" cy="221.8" rx="8" ry="8.3" fill="none" stroke="#176a34" stroke-width="1.4" opacity="0.8" stroke-dasharray="7 4 10 3 5 2"/>
<ellipse cx="106.3" cy="239.3" rx="7.8999999999999995" ry="7.500000000000001" fill="#101a5c" opacity="1.0"/>
<ellipse cx="107.5" cy="235.3" rx="4" ry="2.1" fill="#d02428"/><ellipse cx="102" cy="237" rx="1.7" ry="1.7" fill="#98a820"/><ellipse cx="106" cy="243.5" rx="5.5" ry="2.6" fill="#161890"/>
<ellipse cx="106.3" cy="239.3" rx="8.7" ry="8.3" fill="none" stroke="#38d43c" stroke-width="1.8" opacity="1.0"/>
<ellipse cx="145.3" cy="242.8" rx="7.8999999999999995" ry="8.399999999999999" fill="#0a1c46" opacity="1.0"/>
<path d="M143,241 L151,249.5" stroke="#b0b420" stroke-width="1.8"/><path d="M139,237 L146,243" stroke="#2c9a3a" stroke-width="1.7"/><path d="M147,236 L151,242" stroke="#228a34" stroke-width="1.1"/>
<ellipse cx="145.3" cy="242.8" rx="8.7" ry="9.2" fill="none" stroke="#1a7a36" stroke-width="1.3" opacity="0.85" stroke-dasharray="8 3 5 2 11 4"/>
<ellipse cx="94.3" cy="264.5" rx="8.0" ry="8.5" fill="#0e1a4a" opacity="1.0"/>
<ellipse cx="96" cy="261.5" rx="2.4" ry="4" fill="#a82428"/><ellipse cx="91.5" cy="270" rx="3" ry="2" fill="#a09820"/><ellipse cx="98" cy="268" rx="1.8" ry="1.8" fill="#7a2020"/>
<ellipse cx="94.3" cy="264.5" rx="8.8" ry="9.3" fill="none" stroke="#1f8236" stroke-width="1.4" opacity="0.9" stroke-dasharray="10 3 6 2 7 3"/>
<ellipse cx="144.5" cy="206.8" rx="6.0" ry="6.0" fill="#180a18" opacity="1.0"/>
<ellipse cx="143.5" cy="205.5" rx="3.4" ry="2.8" fill="#7a1c22"/><ellipse cx="147" cy="209" rx="1.8" ry="1.4" fill="#602020"/>
<ellipse cx="144.5" cy="206.8" rx="6.8" ry="6.8" fill="none" stroke="#185a28" stroke-width="1.2" opacity="0.75" stroke-dasharray="5 3 8 4"/>
</g></g>
<line x1="94.3" y1="239.7" x2="115.7" y2="239.7" stroke="#f5e61e" stroke-width="1.1" />
<polygon points="118.7,239.7 114.7,237.7 114.7,241.7" fill="#f5e61e"/>
<text x="97.3" y="251.8" font-size="9.5" text-anchor="middle" fill="#f5e61e" font-weight="normal" stroke="#f5e61e" stroke-width="0.3">α</text>
<text x="122.3" y="251.8" font-size="9.5" text-anchor="middle" fill="#f5e61e" font-weight="normal" stroke="#f5e61e" stroke-width="0.3">ω</text>
<rect x="130.3" y="269.3" width="16.9" height="2.1" fill="#fff" />
<text transform="translate(159.6 213.5) rotate(90) scale(0.9602 1)" x="0" y="0" font-size="9.9" text-anchor="start" fill="#1c1a1b" stroke="#1c1a1b" stroke-width="0">+ Medium</text>
<rect x="0.8" y="280.2" width="74.8" height="74.1" fill="#000" />
<g clip-path="url(#c3)"><g filter="url(#rough)">
<polygon points="33.75,305 45,304.7 51.75,308.75 56.25,316.25 52.5,323 46.5,329.75 41.25,335 32.25,337.25 26.25,332.75 23.25,323 26.25,314.75 30,308.75" fill="#2820bc"/>
<ellipse cx="42" cy="322" rx="7" ry="5" fill="#3a1c9c" opacity="0.7"/>
<polygon points="30,312 34,309 38,311 35,316 30,318" fill="#5a2090" opacity="0.8"/>
<polyline points="31.5,309.5 27.5,315 25,323 27.5,331.5 32.5,335.5 41,333.5 46,328.5 51,322" fill="none" stroke="#d81c24" stroke-width="3" stroke-linejoin="round"/>
<polyline points="26.25,314.75 23.25,323 26.25,332.75 32.25,337.25" fill="none" stroke="#c8d820" stroke-width="1.3" stroke-linejoin="round"/>
<polyline points="32.25,337.25 41.25,335 46.5,329.75" fill="none" stroke="#d8a020" stroke-width="1.2" stroke-linejoin="round"/>
<polyline points="23.5,321 26.25,314.75 30,308.75 33.75,305 45,304.7 51.75,308.75 56.25,316.25 52.5,323 48,328" fill="none" stroke="#44e03e" stroke-width="1.7" stroke-linejoin="round"/>
<polyline points="51.75,308.75 56.25,316.25 52.5,323" fill="none" stroke="#d0e040" stroke-width="0.9" stroke-linejoin="round"/>
</g></g>
<line x1="18.3" y1="321.5" x2="55.8" y2="321.5" stroke="#f5e61e" stroke-width="1.1" />
<polygon points="58.8,321.5 54.8,319.5 54.8,323.5" fill="#f5e61e"/>
<text x="20.3" y="335" font-size="9.5" text-anchor="middle" fill="#f5e61e" font-weight="normal" stroke="#f5e61e" stroke-width="0.3">α</text>
<text x="61" y="335" font-size="9.5" text-anchor="middle" fill="#f5e61e" font-weight="normal" stroke="#f5e61e" stroke-width="0.3">ω</text>
<rect x="46.2" y="349.7" width="19.8" height="2.2" fill="#fff" />
<rect x="81.5" y="280.1" width="75" height="74.2" fill="#000" />
<g clip-path="url(#c4)"><g filter="url(#rough)">
<ellipse cx="94.5" cy="297" rx="5.5" ry="8.5" fill="#18124e"/>
<ellipse cx="97" cy="303" rx="4" ry="4" fill="#3a1450" opacity="0.8"/>
<path d="M86.8,295 Q85.5,288 89,284.6 Q92.5,282.3 96.5,283.2 Q100,285.5 102.5,293" fill="none" stroke="#36d83a" stroke-width="2.5" stroke-linecap="round"/>
<path d="M99.5,287 L103,296" stroke="#b07838" stroke-width="1.1"/><path d="M88,291 L89,299" stroke="#c8c828" stroke-width="0.9"/>
<ellipse cx="112.3" cy="281.2" rx="4.6" ry="3.4" fill="#d81c30"/><path d="M107.5,284 Q113,287.5 120,282.3" fill="none" stroke="#3ad23c" stroke-width="1.5"/>
<ellipse cx="154.5" cy="303" rx="7.5" ry="9.5" fill="#e01c34"/>
<path d="M153,292.5 Q145.5,296.5 146.3,306 Q148,312.5 156,314.3" fill="none" stroke="#48dc3c" stroke-width="2.3"/>
<path d="M151,295 Q147.3,302 150.5,309.5" fill="none" stroke="#e8d820" stroke-width="1.3"/>
<path d="M150.5,308 L156,309.5" stroke="#3ad23c" stroke-width="1.2"/>
<polygon points="101.5,322.5 104.75,315.5 112.25,311.8 118.25,314.75 122.5,322.5 116,326 105.5,328" fill="#241458"/>
<polyline points="101.2,323 104.75,315.5 112.25,311.5 118.25,314.75 122.75,323" fill="none" stroke="#62d636" stroke-width="2.3" stroke-linejoin="round"/>
<polyline points="102.3,321.5 105.5,316.3 112.25,313" fill="none" stroke="#d8d020" stroke-width="0.9"/>
<polyline points="122.75,323 116,326.2 105.5,328.3 101.5,324.5" fill="none" stroke="#c8a828" stroke-width="1.6" stroke-linejoin="round"/>
<polyline points="116,326.5 121,325" fill="none" stroke="#d83020" stroke-width="1.4"/>
<ellipse cx="121.5" cy="340.5" rx="5.6" ry="6.8" fill="#2222b0"/>
<path d="M116,335 Q119,331.5 124,332.5 Q128.5,336 128.3,344" fill="none" stroke="#d82424" stroke-width="2.4" stroke-linecap="round"/>
<path d="M114.3,336.5 Q113.5,345.5 119,350.5" fill="none" stroke="#38c83c" stroke-width="2"/><path d="M126.5,334 Q130.5,338 129.8,345" fill="none" stroke="#d8c020" stroke-width="1.2"/>
<path d="M117,338 L119,346" stroke="#d0a070" stroke-width="0.9"/><path d="M123,349 L126,351" stroke="#3ab83c" stroke-width="1.2"/>
<ellipse cx="151" cy="345" rx="5" ry="5.6" fill="#d81838"/><path d="M146,340.5 Q143.6,347 147.5,352.5" fill="none" stroke="#3ad03c" stroke-width="1.6"/><path d="M147,351.5 L153,352.5" stroke="#3ab83c" stroke-width="1.3"/>
<ellipse cx="83.6" cy="322.5" rx="1.6" ry="3.4" fill="#30b838"/><ellipse cx="84" cy="333" rx="1.1" ry="1.4" fill="#30a838"/>
</g></g>
<line x1="98" y1="323" x2="120.5" y2="323" stroke="#f5e61e" stroke-width="1.1" />
<polygon points="123.5,323 119.5,321 119.5,325" fill="#f5e61e"/>
<text x="101.8" y="335.8" font-size="9.5" text-anchor="middle" fill="#f5e61e" font-weight="normal" stroke="#f5e61e" stroke-width="0.3">α</text>
<text x="126.7" y="335.8" font-size="9.5" text-anchor="middle" fill="#f5e61e" font-weight="normal" stroke="#f5e61e" stroke-width="0.3">ω</text>
<rect x="130.3" y="349.7" width="16.5" height="2.2" fill="#fff" />
<text transform="translate(159.8 293) rotate(90) scale(0.9743 1)" x="0" y="0" font-size="9.7" text-anchor="start" fill="#1c1a1b" stroke="#1c1a1b" stroke-width="0">+ HS-5 CM</text>
<text transform="translate(4.3 363.6) rotate(0) scale(0.9674 1)" x="0" y="0" font-size="7.9" text-anchor="start" fill="#5cb860" stroke="#5cb860" stroke-width="0">Membrane (WGA)</text>
<text x="4.5" y="375" font-size="7.9" text-anchor="start" fill="#c8304a" font-weight="normal" stroke="none">S100A8</text>
<text x="4.5" y="385.3" font-size="7.9" text-anchor="start" fill="#2f5f98" font-weight="normal" stroke="none">Nucleus</text>
<text transform="translate(84.3 363.6) rotate(0) scale(0.9674 1)" x="0" y="0" font-size="7.9" text-anchor="start" fill="#5cb860" stroke="#5cb860" stroke-width="0">Membrane (WGA)</text>
<text x="84.5" y="375" font-size="7.9" text-anchor="start" fill="#c8304a" font-weight="normal" stroke="none">S100A9</text>
<text x="84.5" y="385.3" font-size="7.9" text-anchor="start" fill="#2f5f98" font-weight="normal" stroke="none">Nucleus</text>
<line x1="221" y1="224" x2="221" y2="321.125" stroke="#1c1a1b" stroke-width="1.25" />
<line x1="217.6" y1="227.6" x2="221" y2="227.6" stroke="#1c1a1b" stroke-width="1.25" />
<text x="214.6" y="230.408" font-size="7.8" text-anchor="end" fill="#1c1a1b" font-weight="normal" stroke="#1c1a1b" stroke-width="0.12" >25</text>
<line x1="217.6" y1="246.2" x2="221" y2="246.2" stroke="#1c1a1b" stroke-width="1.25" />
<text x="214.6" y="249.00799999999998" font-size="7.8" text-anchor="end" fill="#1c1a1b" font-weight="normal" stroke="#1c1a1b" stroke-width="0.12" >20</text>
<line x1="217.6" y1="264.8" x2="221" y2="264.8" stroke="#1c1a1b" stroke-width="1.25" />
<text x="214.6" y="267.608" font-size="7.8" text-anchor="end" fill="#1c1a1b" font-weight="normal" stroke="#1c1a1b" stroke-width="0.12" >15</text>
<line x1="217.6" y1="283.4" x2="221" y2="283.4" stroke="#1c1a1b" stroke-width="1.25" />
<text x="214.6" y="286.20799999999997" font-size="7.8" text-anchor="end" fill="#1c1a1b" font-weight="normal" stroke="#1c1a1b" stroke-width="0.12" >10</text>
<line x1="217.6" y1="302" x2="221" y2="302" stroke="#1c1a1b" stroke-width="1.25" />
<text x="214.6" y="304.808" font-size="7.8" text-anchor="end" fill="#1c1a1b" font-weight="normal" stroke="#1c1a1b" stroke-width="0.12" >5</text>
<line x1="217.6" y1="320.5" x2="221" y2="320.5" stroke="#1c1a1b" stroke-width="1.25" />
<text x="214.6" y="323.308" font-size="7.8" text-anchor="end" fill="#1c1a1b" font-weight="normal" stroke="#1c1a1b" stroke-width="0.12" >0</text>
<line x1="218" y1="320.5" x2="255" y2="320.5" stroke="#1c1a1b" stroke-width="1.25" />
<line x1="229.5" y1="320.5" x2="229.5" y2="323.7" stroke="#1c1a1b" stroke-width="1.25" />
<line x1="246.5" y1="320.5" x2="246.5" y2="323.7" stroke="#1c1a1b" stroke-width="1.25" />
<rect x="225.4" y="295.6" width="8.2" height="24.9" fill="#c8102e" />
<line x1="229.5" y1="295.6" x2="229.5" y2="291" stroke="#c8102e" stroke-width="1.2" />
<line x1="226.9" y1="291" x2="232.1" y2="291" stroke="#c8102e" stroke-width="1.2" />
<rect x="242.4" y="248" width="8.2" height="72.5" fill="#1a5590" />
<line x1="246.5" y1="248" x2="246.5" y2="241.4" stroke="#1a5590" stroke-width="1.2" />
<line x1="243.9" y1="241.4" x2="249.1" y2="241.4" stroke="#1a5590" stroke-width="1.2" />
<polyline points="229.5,289.5 229.5,238 246.5,238 246.5,241" fill="none" stroke="#1c1a1b" stroke-width="1.0"/>
<text x="238" y="238.3" font-size="7.5" text-anchor="middle" fill="#1c1a1b" font-weight="normal" stroke="#1c1a1b" stroke-width="0.12" >**</text>
<text transform="translate(199.3 272.8) rotate(-90) scale(0.7026 1)" x="0" y="0" font-size="9.1" text-anchor="middle" fill="#1c1a1b" stroke="#1c1a1b" stroke-width="0.3">% Colocalization [WGA/S100A8]</text>
<text x="231.5" y="327.5" font-size="8" text-anchor="end" fill="#1c1a1b" font-weight="normal" stroke="#1c1a1b" stroke-width="0.12" transform="rotate(-45 231.5 327.5)" >Medium</text>
<text x="250" y="327.5" font-size="8" text-anchor="end" fill="#1c1a1b" font-weight="normal" stroke="#1c1a1b" stroke-width="0.12" transform="rotate(-45 250 327.5)" >HS-5 CM</text>
<line x1="298" y1="224" x2="298" y2="321.125" stroke="#1c1a1b" stroke-width="1.25" />
<line x1="294.6" y1="227.6" x2="298" y2="227.6" stroke="#1c1a1b" stroke-width="1.25" />
<text x="291.6" y="230.408" font-size="7.8" text-anchor="end" fill="#1c1a1b" font-weight="normal" stroke="#1c1a1b" stroke-width="0.12" >40</text>
<line x1="294.6" y1="250.8" x2="298" y2="250.8" stroke="#1c1a1b" stroke-width="1.25" />
<text x="291.6" y="253.608" font-size="7.8" text-anchor="end" fill="#1c1a1b" font-weight="normal" stroke="#1c1a1b" stroke-width="0.12" >30</text>
<line x1="294.6" y1="274" x2="298" y2="274" stroke="#1c1a1b" stroke-width="1.25" />
<text x="291.6" y="276.808" font-size="7.8" text-anchor="end" fill="#1c1a1b" font-weight="normal" stroke="#1c1a1b" stroke-width="0.12" >20</text>
<line x1="294.6" y1="297.3" x2="298" y2="297.3" stroke="#1c1a1b" stroke-width="1.25" />
<text x="291.6" y="300.108" font-size="7.8" text-anchor="end" fill="#1c1a1b" font-weight="normal" stroke="#1c1a1b" stroke-width="0.12" >10</text>
<line x1="294.6" y1="320.5" x2="298" y2="320.5" stroke="#1c1a1b" stroke-width="1.25" />
<text x="291.6" y="323.308" font-size="7.8" text-anchor="end" fill="#1c1a1b" font-weight="normal" stroke="#1c1a1b" stroke-width="0.12" >0</text>
<line x1="295" y1="320.5" x2="332" y2="320.5" stroke="#1c1a1b" stroke-width="1.25" />
<line x1="305.7" y1="320.5" x2="305.7" y2="323.7" stroke="#1c1a1b" stroke-width="1.25" />
<line x1="324.6" y1="320.5" x2="324.6" y2="323.7" stroke="#1c1a1b" stroke-width="1.25" />
<rect x="301.4" y="301" width="8.6" height="19.5" fill="#c8102e" />
<line x1="305.7" y1="301" x2="305.7" y2="298.3" stroke="#c8102e" stroke-width="1.2" />
<line x1="303.09999999999997" y1="298.3" x2="308.3" y2="298.3" stroke="#c8102e" stroke-width="1.2" />
<rect x="320.4" y="242.4" width="8.4" height="78.1" fill="#1a5590" />
<line x1="324.6" y1="242.4" x2="324.6" y2="232" stroke="#1a5590" stroke-width="1.2" />
<line x1="322.0" y1="232" x2="327.20000000000005" y2="232" stroke="#1a5590" stroke-width="1.2" />
<polyline points="305.7,297 305.7,228.4 324.6,228.4 324.6,232" fill="none" stroke="#1c1a1b" stroke-width="1.0"/>
<text x="315.2" y="228.8" font-size="7.5" text-anchor="middle" fill="#1c1a1b" font-weight="normal" stroke="#1c1a1b" stroke-width="0.12" >**</text>
<text transform="translate(275.8 272.8) rotate(-90) scale(0.7026 1)" x="0" y="0" font-size="9.1" text-anchor="middle" fill="#1c1a1b" stroke="#1c1a1b" stroke-width="0.3">% Colocalization [WGA/S100A9]</text>
<text x="308.5" y="327.5" font-size="8" text-anchor="end" fill="#1c1a1b" font-weight="normal" stroke="#1c1a1b" stroke-width="0.12" transform="rotate(-45 308.5 327.5)" >Medium</text>
<text x="328" y="327.5" font-size="8" text-anchor="end" fill="#1c1a1b" font-weight="normal" stroke="#1c1a1b" stroke-width="0.12" transform="rotate(-45 328 327.5)" >HS-5 CM</text>
<text x="369.5" y="187.5" font-size="11.5" text-anchor="start" fill="#000" font-weight="bold" >E</text>
<text x="397.2" y="199" font-size="9.7" text-anchor="middle" fill="#1c1a1b" font-weight="normal" stroke="#1c1a1b" stroke-width="0.12" >BF</text>
<text transform="translate(447 199) rotate(0) scale(1.0159 1)" x="0" y="0" font-size="9.7" text-anchor="middle" fill="#1c1a1b" stroke="#1c1a1b" stroke-width="0">CD36/S100A8</text>
<rect x="369.6" y="203.7" width="53.9" height="32.7" fill="#a1a1a1" />
<rect x="423.2" y="203.7" width="53.6" height="32.7" fill="#000" />
<text x="480.6" y="222.7" font-size="8.9" text-anchor="start" fill="#1c1a1b" font-weight="normal" stroke="#1c1a1b" stroke-width="0.12" >Medium</text>
<rect x="374.5" y="230.3" width="3.9" height="2.6" fill="#fff" />
<rect x="381.7" y="230.3" width="3.9" height="2.6" fill="#fff" />
<rect x="388.9" y="230.3" width="3.9" height="2.6" fill="#fff" />
<text x="393.8" y="233.7" font-size="7.4" text-anchor="start" fill="#ededed" font-weight="normal" stroke="#ededed" stroke-width="0.12" >20 µm</text>
<rect x="369.6" y="242" width="53.9" height="32.8" fill="#a1a1a1" />
<rect x="423.2" y="242" width="53.6" height="32.8" fill="#000" />
<text x="480.6" y="261" font-size="8.9" text-anchor="start" fill="#1c1a1b" font-weight="normal" stroke="#1c1a1b" stroke-width="0.12" >HS-5 CM</text>
<rect x="374.5" y="268.7" width="3.9" height="2.6" fill="#fff" />
<rect x="381.7" y="268.7" width="3.9" height="2.6" fill="#fff" />
<rect x="388.9" y="268.7" width="3.9" height="2.6" fill="#fff" />
<text x="393.8" y="272.1" font-size="7.4" text-anchor="start" fill="#ededed" font-weight="normal" stroke="#ededed" stroke-width="0.12" >20 µm</text>
<text x="397.2" y="286" font-size="9.7" text-anchor="middle" fill="#1c1a1b" font-weight="normal" stroke="#1c1a1b" stroke-width="0.12" >BF</text>
<text transform="translate(447 286) rotate(0) scale(1.0159 1)" x="0" y="0" font-size="9.7" text-anchor="middle" fill="#1c1a1b" stroke="#1c1a1b" stroke-width="0">CD36/S100A9</text>
<rect x="369.6" y="290.6" width="55.7" height="32.5" fill="#a1a1a1" />
<rect x="425" y="290.6" width="51.8" height="32.5" fill="#000" />
<text x="480.6" y="310" font-size="8.9" text-anchor="start" fill="#1c1a1b" font-weight="normal" stroke="#1c1a1b" stroke-width="0.12" >Medium</text>
<rect x="375.5" y="317.0" width="3.9" height="2.6" fill="#fff" />
<rect x="382.7" y="317.0" width="3.9" height="2.6" fill="#fff" />
<rect x="389.9" y="317.0" width="3.9" height="2.6" fill="#fff" />
<text x="394.8" y="320.4" font-size="7.4" text-anchor="start" fill="#ededed" font-weight="normal" stroke="#ededed" stroke-width="0.12" >20 µm</text>
<rect x="369.6" y="328.2" width="55.7" height="32.3" fill="#a1a1a1" />
<rect x="425" y="328.2" width="51.8" height="32.3" fill="#000" />
<text x="480.6" y="346.5" font-size="8.9" text-anchor="start" fill="#1c1a1b" font-weight="normal" stroke="#1c1a1b" stroke-width="0.12" >HS-5 CM</text>
<rect x="375.5" y="354.4" width="3.9" height="2.6" fill="#fff" />
<rect x="382.7" y="354.4" width="3.9" height="2.6" fill="#fff" />
<rect x="389.9" y="354.4" width="3.9" height="2.6" fill="#fff" />
<text x="394.8" y="357.8" font-size="7.4" text-anchor="start" fill="#ededed" font-weight="normal" stroke="#ededed" stroke-width="0.12" >20 µm</text>
<g filter="url(#b05)">
<circle cx="394" cy="215.4" r="5.6" fill="#b8b8b8"/><circle cx="394" cy="215.4" r="5" fill="none" stroke="#e4e4e4" stroke-width="1.3"/><path d="M392,212.3 Q394.5,210.3 396.5,213 Q398,216 395.5,218.6 Q392.5,219.2 391.8,216.5 Q393.8,215.3 392,212.3Z" fill="#2a2a2a"/><circle cx="393" cy="215.8" r="1" fill="#8a8a8a"/>
<circle cx="395.6" cy="258.5" r="3.4" fill="#adadad"/><circle cx="394.6" cy="259.6" r="1.25" fill="#1c1c1c"/><circle cx="396.6" cy="257.4" r="1.1" fill="#1c1c1c"/><circle cx="395.8" cy="258.6" r="0.7" fill="#f0f0f0"/><circle cx="397.3" cy="255.6" r="0.8" fill="#c4c4c4"/>
<ellipse cx="397.7" cy="306" rx="5" ry="5.8" fill="#bcbcbc"/><ellipse cx="397.7" cy="306" rx="4.6" ry="5.4" fill="none" stroke="#e2e2e2" stroke-width="1.1"/><ellipse cx="397.7" cy="306.4" rx="2.9" ry="3.5" fill="#343434"/><circle cx="397" cy="305.4" r="0.9" fill="#8c8c8c"/><path d="M397.7,300 L397.7,302.5" stroke="#444" stroke-width="0.8"/>
<ellipse cx="397.7" cy="343" rx="5.2" ry="5.6" fill="#acacac"/><ellipse cx="397.7" cy="343" rx="5" ry="5.4" fill="none" stroke="#cfcfcf" stroke-width="0.9"/><ellipse cx="397.7" cy="343.3" rx="2.7" ry="2.9" fill="none" stroke="#858585" stroke-width="0.8"/><circle cx="397.7" cy="343.4" r="0.8" fill="#8a8a8a"/>
</g>
<g filter="url(#b05)">
<circle cx="445.9" cy="215.4" r="3.2" fill="#0c3a10" opacity="0.7"/><circle cx="445.9" cy="215.3" r="1.2" fill="#3c9440"/>
<circle cx="450.9" cy="258" r="5.6" fill="#08280c" opacity="0.8"/><path d="M447.3,258.6 A3.8,3.8 0 0 1 454.6,258.2" fill="none" stroke="#36b83a" stroke-width="2.3"/><circle cx="451" cy="255.6" r="1.2" fill="#74e078"/><circle cx="447.7" cy="260.6" r="1.1" fill="#a8f0a8"/><circle cx="454.6" cy="259.6" r="1.1" fill="#a8f0a8"/><circle cx="449.3" cy="262" r="0.8" fill="#2fa834"/>
<circle cx="450.8" cy="305" r="4.8" fill="#072a0a" opacity="0.8"/><circle cx="449.8" cy="301.6" r="0.95" fill="#2cae32"/><circle cx="452.4" cy="303.6" r="1" fill="#2cae32"/><circle cx="449.2" cy="305.8" r="1.05" fill="#34c23a"/><circle cx="451.2" cy="308.4" r="0.9" fill="#279c2c"/>
<circle cx="451.3" cy="342.2" r="5.8" fill="#0a3210" opacity="0.85"/><circle cx="451.3" cy="342.2" r="3.3" fill="none" stroke="#2fb834" stroke-width="2.3"/><circle cx="449" cy="340" r="1.1" fill="#7ce480"/><circle cx="453.6" cy="340.4" r="1.1" fill="#7ce480"/><circle cx="453.4" cy="344.6" r="1.1" fill="#6cdc70"/><circle cx="449.4" cy="344.8" r="1" fill="#5cd060"/><circle cx="451.3" cy="342.4" r="1.1" fill="#0e4a12"/>
</g>
<text x="0.5" y="407.3" font-size="11.5" text-anchor="start" fill="#000" font-weight="bold" >F</text>
<line x1="41" y1="420" x2="41" y2="517" stroke="#1c1a1b" stroke-width="1.1" />
<line x1="38" y1="498.08" x2="41" y2="498.08" stroke="#1c1a1b" stroke-width="1.1" />
<text x="37.3" y="500.97999999999996" font-size="8" text-anchor="end" fill="#1c1a1b">2×10<tspan font-size="5.4" dy="-3.2">4</tspan></text>
<line x1="38" y1="479.65999999999997" x2="41" y2="479.65999999999997" stroke="#1c1a1b" stroke-width="1.1" />
<text x="37.3" y="482.55999999999995" font-size="8" text-anchor="end" fill="#1c1a1b">4×10<tspan font-size="5.4" dy="-3.2">4</tspan></text>
<line x1="38" y1="461.24" x2="41" y2="461.24" stroke="#1c1a1b" stroke-width="1.1" />
<text x="37.3" y="464.14" font-size="8" text-anchor="end" fill="#1c1a1b">6×10<tspan font-size="5.4" dy="-3.2">4</tspan></text>
<line x1="38" y1="442.82" x2="41" y2="442.82" stroke="#1c1a1b" stroke-width="1.1" />
<text x="37.3" y="445.71999999999997" font-size="8" text-anchor="end" fill="#1c1a1b">8×10<tspan font-size="5.4" dy="-3.2">4</tspan></text>
<line x1="38" y1="424.4" x2="41" y2="424.4" stroke="#1c1a1b" stroke-width="1.1" />
<text x="37.3" y="427.29999999999995" font-size="8" text-anchor="end" fill="#1c1a1b">1×10<tspan font-size="5.4" dy="-3.2">5</tspan></text>
<line x1="38" y1="516.5" x2="41" y2="516.5" stroke="#1c1a1b" stroke-width="1.1" />
<text x="34.6" y="519.4" font-size="7.8" text-anchor="end" fill="#1c1a1b" font-weight="normal" stroke="#1c1a1b" stroke-width="0.12" >0</text>
<line x1="38" y1="516.5" x2="77" y2="516.5" stroke="#1c1a1b" stroke-width="1.25" />
<line x1="50.4" y1="516.5" x2="50.4" y2="519.7" stroke="#1c1a1b" stroke-width="1.25" />
<line x1="67.6" y1="516.5" x2="67.6" y2="519.7" stroke="#1c1a1b" stroke-width="1.25" />
<rect x="46.4" y="458.6" width="8.0" height="57.9" fill="#c8102e" />
<line x1="50.4" y1="458.6" x2="50.4" y2="457.8" stroke="#c8102e" stroke-width="1.2" />
<line x1="47.8" y1="457.8" x2="53.0" y2="457.8" stroke="#c8102e" stroke-width="1.2" />
<rect x="63.6" y="446.6" width="8.0" height="69.9" fill="#1a5590" />
<line x1="67.6" y1="446.6" x2="67.6" y2="444" stroke="#1a5590" stroke-width="1.2" />
<line x1="65.0" y1="444" x2="70.19999999999999" y2="444" stroke="#1a5590" stroke-width="1.2" />
<polyline points="50.4,456 50.4,440 67.6,440 67.6,443" fill="none" stroke="#1c1a1b" stroke-width="1.0"/>
<text x="59" y="440.5" font-size="7.5" text-anchor="middle" fill="#1c1a1b" font-weight="normal" stroke="#1c1a1b" stroke-width="0.12" >**</text>
<text transform="translate(7.6 468.8) rotate(-90) scale(0.8011 1)" x="0" y="0" font-size="8.6" text-anchor="middle" fill="#1c1a1b" stroke="#1c1a1b" stroke-width="0.3">Bodipy [MdFI]</text>
<text x="53.5" y="523.5" font-size="8" text-anchor="end" fill="#1c1a1b" font-weight="normal" stroke="#1c1a1b" stroke-width="0.12" transform="rotate(-45 53.5 523.5)" >Medium</text>
<text x="71.5" y="523.5" font-size="8" text-anchor="end" fill="#1c1a1b" font-weight="normal" stroke="#1c1a1b" stroke-width="0.12" transform="rotate(-45 71.5 523.5)" >HS-5 CM</text>
<text x="98" y="407.3" font-size="11.5" text-anchor="start" fill="#000" font-weight="bold" >G</text>
<text x="148.5" y="416.5" font-size="9.7" text-anchor="middle" fill="#1c1a1b" font-weight="normal" stroke="#1c1a1b" stroke-width="0.12" >HS-5</text>
<line x1="127.4" y1="420" x2="127.4" y2="517.325" stroke="#1c1a1b" stroke-width="1.25" />
<line x1="124.0" y1="424.4" x2="127.4" y2="424.4" stroke="#1c1a1b" stroke-width="1.25" />
<text x="121.0" y="427.20799999999997" font-size="7.8" text-anchor="end" fill="#1c1a1b" font-weight="normal" stroke="#1c1a1b" stroke-width="0.12" >1.5</text>
<line x1="124.0" y1="455.2" x2="127.4" y2="455.2" stroke="#1c1a1b" stroke-width="1.25" />
<text x="121.0" y="458.008" font-size="7.8" text-anchor="end" fill="#1c1a1b" font-weight="normal" stroke="#1c1a1b" stroke-width="0.12" >1.0</text>
<line x1="124.0" y1="486" x2="127.4" y2="486" stroke="#1c1a1b" stroke-width="1.25" />
<text x="121.0" y="488.808" font-size="7.8" text-anchor="end" fill="#1c1a1b" font-weight="normal" stroke="#1c1a1b" stroke-width="0.12" >0.5</text>
<line x1="124.0" y1="516.7" x2="127.4" y2="516.7" stroke="#1c1a1b" stroke-width="1.25" />
<text x="121.0" y="519.508" font-size="7.8" text-anchor="end" fill="#1c1a1b" font-weight="normal" stroke="#1c1a1b" stroke-width="0.12" >0.0</text>
<line x1="124.4" y1="516.7" x2="163" y2="516.7" stroke="#1c1a1b" stroke-width="1.25" />
<line x1="136.7" y1="516.7" x2="136.7" y2="519.9000000000001" stroke="#1c1a1b" stroke-width="1.25" />
<line x1="153.7" y1="516.7" x2="153.7" y2="519.9000000000001" stroke="#1c1a1b" stroke-width="1.25" />
<rect x="132.4" y="441.4" width="8.6" height="75.3" fill="#c8102e" />
<line x1="136.7" y1="441.4" x2="136.7" y2="437.4" stroke="#c8102e" stroke-width="1.2" />
<line x1="134.1" y1="437.4" x2="139.29999999999998" y2="437.4" stroke="#c8102e" stroke-width="1.2" />
<rect x="149.4" y="452.6" width="8.6" height="64.1" fill="#1a5590" />
<line x1="153.7" y1="452.6" x2="153.7" y2="447" stroke="#1a5590" stroke-width="1.2" />
<line x1="151.1" y1="447" x2="156.29999999999998" y2="447" stroke="#1a5590" stroke-width="1.2" />
<polyline points="136.7,436 136.7,430.6 153.7,430.6 153.7,443" fill="none" stroke="#1c1a1b" stroke-width="1.0"/>
<text x="145.4" y="431" font-size="7.5" text-anchor="middle" fill="#1c1a1b" font-weight="normal" stroke="#1c1a1b" stroke-width="0.12" >**</text>
<text transform="translate(103.7 467.5) rotate(-90) scale(0.7757 1)" x="0" y="0" font-size="8.6" text-anchor="middle" fill="#1c1a1b" stroke="#1c1a1b" stroke-width="0.3">Bodipy [MdFI] fold change</text>
<text x="136.7" y="529" font-size="7.5" text-anchor="middle" fill="#1c1a1b" font-weight="normal" stroke="#1c1a1b" stroke-width="0.12" >0</text>
<text x="153.7" y="529" font-size="7.5" text-anchor="middle" fill="#1c1a1b" font-weight="normal" stroke="#1c1a1b" stroke-width="0.12" >1</text>
<text transform="translate(147 540.5) rotate(0) scale(0.8141 1)" x="0" y="0" font-size="8.6" text-anchor="middle" fill="#1c1a1b" stroke="#1c1a1b" stroke-width="0.3">Ruxolitinib [µM]</text>
<text x="191" y="406.7" font-size="11.5" text-anchor="start" fill="#000" font-weight="bold" >H</text>
<line x1="224.6" y1="420" x2="224.6" y2="517.425" stroke="#1c1a1b" stroke-width="1.25" />
<line x1="221.2" y1="422.6" x2="224.6" y2="422.6" stroke="#1c1a1b" stroke-width="1.25" />
<text x="218.2" y="425.408" font-size="7.8" text-anchor="end" fill="#1c1a1b" font-weight="normal" stroke="#1c1a1b" stroke-width="0.12" >150</text>
<line x1="221.2" y1="454" x2="224.6" y2="454" stroke="#1c1a1b" stroke-width="1.25" />
<text x="218.2" y="456.808" font-size="7.8" text-anchor="end" fill="#1c1a1b" font-weight="normal" stroke="#1c1a1b" stroke-width="0.12" >100</text>
<line x1="221.2" y1="485.4" x2="224.6" y2="485.4" stroke="#1c1a1b" stroke-width="1.25" />
<text x="218.2" y="488.20799999999997" font-size="7.8" text-anchor="end" fill="#1c1a1b" font-weight="normal" stroke="#1c1a1b" stroke-width="0.12" >50</text>
<line x1="221.2" y1="516.8" x2="224.6" y2="516.8" stroke="#1c1a1b" stroke-width="1.25" />
<text x="218.2" y="519.608" font-size="7.8" text-anchor="end" fill="#1c1a1b" font-weight="normal" stroke="#1c1a1b" stroke-width="0.12" >0</text>
<line x1="221.6" y1="516.8" x2="302" y2="516.8" stroke="#1c1a1b" stroke-width="1.25" />
<line x1="224.8" y1="516.8" x2="224.8" y2="520.0" stroke="#1c1a1b" stroke-width="1.25" />
<line x1="243.4" y1="516.8" x2="243.4" y2="520.0" stroke="#1c1a1b" stroke-width="1.25" />
<line x1="261.9" y1="516.8" x2="261.9" y2="520.0" stroke="#1c1a1b" stroke-width="1.25" />
<line x1="280.5" y1="516.8" x2="280.5" y2="520.0" stroke="#1c1a1b" stroke-width="1.25" />
<line x1="299" y1="516.8" x2="299" y2="520.0" stroke="#1c1a1b" stroke-width="1.25" />
<text x="224.8" y="527" font-size="7.8" text-anchor="middle" fill="#1c1a1b" font-weight="normal" stroke="#1c1a1b" stroke-width="0.12" >0</text>
<text x="243.4" y="527" font-size="7.8" text-anchor="middle" fill="#1c1a1b" font-weight="normal" stroke="#1c1a1b" stroke-width="0.12" >20</text>
<text x="261.9" y="527" font-size="7.8" text-anchor="middle" fill="#1c1a1b" font-weight="normal" stroke="#1c1a1b" stroke-width="0.12" >40</text>
<text x="280.5" y="527" font-size="7.8" text-anchor="middle" fill="#1c1a1b" font-weight="normal" stroke="#1c1a1b" stroke-width="0.12" >60</text>
<text x="299" y="527" font-size="7.8" text-anchor="middle" fill="#1c1a1b" font-weight="normal" stroke="#1c1a1b" stroke-width="0.12" >80</text>
<text transform="translate(261.3 540) rotate(0) scale(0.7758 1)" x="0" y="0" font-size="8.6" text-anchor="middle" fill="#1c1a1b" stroke="#1c1a1b" stroke-width="0.3">Time [minutes]</text>
<text transform="translate(199.3 469) rotate(-90) scale(0.7847 1)" x="0" y="0" font-size="8.6" text-anchor="middle" fill="#1c1a1b" stroke="#1c1a1b" stroke-width="0.3">OCR [pmol/min]</text>
<text x="227" y="430" font-size="8" text-anchor="start" fill="#1c1a1b" font-weight="normal" stroke="#1c1a1b" stroke-width="0.12" >SSO</text>
<text x="260.4" y="431" font-size="7.2" text-anchor="start" fill="#1c1a1b" font-weight="normal" stroke="#1c1a1b" stroke-width="0.12" >Etomoxir</text>
<line x1="236" y1="434" x2="236" y2="445" stroke="#000" stroke-width="1.1" />
<polygon points="236,449.5 233.4,443.5 238.6,443.5" fill="#000"/>
<line x1="273.6" y1="434" x2="273.6" y2="445" stroke="#000" stroke-width="1.1" />
<polygon points="273.6,449.5 271.0,443.5 276.20000000000005,443.5" fill="#000"/>
<line x1="236" y1="454.3" x2="303.6" y2="454.3" stroke="#1c1a1b" stroke-width="1.1" stroke-dasharray="2 1.9"/>
<line x1="270" y1="463" x2="303.6" y2="463" stroke="#1c1a1b" stroke-width="1.1" stroke-dasharray="2 1.9"/>
<line x1="295" y1="478.6" x2="303.6" y2="478.6" stroke="#1c1a1b" stroke-width="1.1" stroke-dasharray="2 1.9"/>
<line x1="303.6" y1="454.3" x2="303.6" y2="478.6" stroke="#1c1a1b" stroke-width="0.9" />
<text x="307" y="461.8" font-size="7.2" text-anchor="start" fill="#1c1a1b" font-weight="normal" stroke="#1c1a1b" stroke-width="0.12" >Exo</text>
<text x="307" y="474.2" font-size="7.2" text-anchor="start" fill="#1c1a1b" font-weight="normal" stroke="#1c1a1b" stroke-width="0.12" >Endo</text>
<polyline points="225.6,472.6 231.82,470 238.04,472.6 244.26,474.4 250.48,474.4 256.7,475 262.92,475.6 269.14,476.4 275.36,487 281.58,488 287.8,489 294.02,490" fill="none" stroke="#c8102e" stroke-width="1.5"/>
<line x1="225.6" y1="470.0" x2="225.6" y2="475.20000000000005" stroke="#1c1a1b" stroke-width="0.8" />
<line x1="224.0" y1="470.0" x2="227.2" y2="470.0" stroke="#1c1a1b" stroke-width="0.8" />
<line x1="224.0" y1="475.20000000000005" x2="227.2" y2="475.20000000000005" stroke="#1c1a1b" stroke-width="0.8" />
<circle cx="225.6" cy="472.6" r="1.75" fill="#c8102e"/>
<line x1="231.82" y1="468" x2="231.82" y2="472" stroke="#1c1a1b" stroke-width="0.8" />
<line x1="230.22" y1="468" x2="233.42" y2="468" stroke="#1c1a1b" stroke-width="0.8" />
<line x1="230.22" y1="472" x2="233.42" y2="472" stroke="#1c1a1b" stroke-width="0.8" />
<circle cx="231.82" cy="470" r="1.75" fill="#c8102e"/>
<line x1="238.04" y1="470.6" x2="238.04" y2="474.6" stroke="#1c1a1b" stroke-width="0.8" />
<line x1="236.44" y1="470.6" x2="239.64" y2="470.6" stroke="#1c1a1b" stroke-width="0.8" />
<line x1="236.44" y1="474.6" x2="239.64" y2="474.6" stroke="#1c1a1b" stroke-width="0.8" />
<circle cx="238.04" cy="472.6" r="1.75" fill="#c8102e"/>
<line x1="244.26" y1="472.4" x2="244.26" y2="476.4" stroke="#1c1a1b" stroke-width="0.8" />
<line x1="242.66" y1="472.4" x2="245.86" y2="472.4" stroke="#1c1a1b" stroke-width="0.8" />
<line x1="242.66" y1="476.4" x2="245.86" y2="476.4" stroke="#1c1a1b" stroke-width="0.8" />
<circle cx="244.26" cy="474.4" r="1.75" fill="#c8102e"/>
<line x1="250.48" y1="472.4" x2="250.48" y2="476.4" stroke="#1c1a1b" stroke-width="0.8" />
<line x1="248.88" y1="472.4" x2="252.08" y2="472.4" stroke="#1c1a1b" stroke-width="0.8" />
<line x1="248.88" y1="476.4" x2="252.08" y2="476.4" stroke="#1c1a1b" stroke-width="0.8" />
<circle cx="250.48" cy="474.4" r="1.75" fill="#c8102e"/>
<circle cx="256.7" cy="475" r="1.75" fill="#c8102e"/>
<circle cx="262.92" cy="475.6" r="1.75" fill="#c8102e"/>
<circle cx="269.14" cy="476.4" r="1.75" fill="#c8102e"/>
<circle cx="275.36" cy="487" r="1.75" fill="#c8102e"/>
<circle cx="281.58" cy="488" r="1.75" fill="#c8102e"/>
<circle cx="287.8" cy="489" r="1.75" fill="#c8102e"/>
<circle cx="294.02" cy="490" r="1.75" fill="#c8102e"/>
<polyline points="225.6,454.6 231.82,454.6 238.04,459 244.26,460.6 250.48,460.2 256.7,461.4 262.92,462.4 269.14,463 275.36,477.4 281.58,478 287.8,478.4 294.02,478.6" fill="none" stroke="#1a5590" stroke-width="1.5"/>
<circle cx="225.6" cy="454.6" r="1.75" fill="#1a5590"/>
<circle cx="231.82" cy="454.6" r="1.75" fill="#1a5590"/>
<circle cx="238.04" cy="459" r="1.75" fill="#1a5590"/>
<circle cx="244.26" cy="460.6" r="1.75" fill="#1a5590"/>
<circle cx="250.48" cy="460.2" r="1.75" fill="#1a5590"/>
<circle cx="256.7" cy="461.4" r="1.75" fill="#1a5590"/>
<circle cx="262.92" cy="462.4" r="1.75" fill="#1a5590"/>
<circle cx="269.14" cy="463" r="1.75" fill="#1a5590"/>
<circle cx="275.36" cy="477.4" r="1.75" fill="#1a5590"/>
<circle cx="281.58" cy="478" r="1.75" fill="#1a5590"/>
<circle cx="287.8" cy="478.4" r="1.75" fill="#1a5590"/>
<circle cx="294.02" cy="478.6" r="1.75" fill="#1a5590"/>
<line x1="229.7" y1="501" x2="238.4" y2="501" stroke="#c8102e" stroke-width="1.3" />
<circle cx="234" cy="501" r="1.5" fill="#c8102e"/>
<line x1="229.7" y1="511" x2="238.4" y2="511" stroke="#1a5590" stroke-width="1.3" />
<circle cx="234" cy="511" r="1.5" fill="#1a5590"/>
<text x="241.8" y="503.5" font-size="6.9" text-anchor="start" fill="#1c1a1b" font-weight="normal" stroke="#1c1a1b" stroke-width="0.12" >Medium</text>
<text x="241.8" y="513.5" font-size="6.9" text-anchor="start" fill="#1c1a1b" font-weight="normal" stroke="#1c1a1b" stroke-width="0.12" >CM</text>
<line x1="363.4" y1="420.4" x2="363.4" y2="517.325" stroke="#1c1a1b" stroke-width="1.25" />
<line x1="360.0" y1="424" x2="363.4" y2="424" stroke="#1c1a1b" stroke-width="1.25" />
<text x="357.0" y="426.808" font-size="7.8" text-anchor="end" fill="#1c1a1b" font-weight="normal" stroke="#1c1a1b" stroke-width="0.12" >50</text>
<line x1="360.0" y1="442.5" x2="363.4" y2="442.5" stroke="#1c1a1b" stroke-width="1.25" />
<text x="357.0" y="445.308" font-size="7.8" text-anchor="end" fill="#1c1a1b" font-weight="normal" stroke="#1c1a1b" stroke-width="0.12" >40</text>
<line x1="360.0" y1="461.1" x2="363.4" y2="461.1" stroke="#1c1a1b" stroke-width="1.25" />
<text x="357.0" y="463.908" font-size="7.8" text-anchor="end" fill="#1c1a1b" font-weight="normal" stroke="#1c1a1b" stroke-width="0.12" >30</text>
<line x1="360.0" y1="479.6" x2="363.4" y2="479.6" stroke="#1c1a1b" stroke-width="1.25" />
<text x="357.0" y="482.408" font-size="7.8" text-anchor="end" fill="#1c1a1b" font-weight="normal" stroke="#1c1a1b" stroke-width="0.12" >20</text>
<line x1="360.0" y1="498.2" x2="363.4" y2="498.2" stroke="#1c1a1b" stroke-width="1.25" />
<text x="357.0" y="501.008" font-size="7.8" text-anchor="end" fill="#1c1a1b" font-weight="normal" stroke="#1c1a1b" stroke-width="0.12" >10</text>
<line x1="360.0" y1="516.7" x2="363.4" y2="516.7" stroke="#1c1a1b" stroke-width="1.25" />
<text x="357.0" y="519.508" font-size="7.8" text-anchor="end" fill="#1c1a1b" font-weight="normal" stroke="#1c1a1b" stroke-width="0.12" >0</text>
<line x1="360.4" y1="516.7" x2="436" y2="516.7" stroke="#1c1a1b" stroke-width="1.25" />
<line x1="381.4" y1="516.7" x2="381.4" y2="519.9000000000001" stroke="#1c1a1b" stroke-width="1.25" />
<line x1="417.8" y1="516.7" x2="417.8" y2="519.9000000000001" stroke="#1c1a1b" stroke-width="1.25" />
<text transform="translate(342.6 469.4) rotate(-90) scale(0.7766 1)" x="0" y="0" font-size="8.6" text-anchor="middle" fill="#1c1a1b" stroke="#1c1a1b" stroke-width="0.3">OCR [pmol/min]</text>
<rect x="367.4" y="427" width="8.2" height="3" fill="#c8102e" />
<text x="379" y="431.3" font-size="7.1" text-anchor="start" fill="#1c1a1b" font-weight="normal" stroke="#1c1a1b" stroke-width="0.12" >Medium</text>
<rect x="367.4" y="435.6" width="8.2" height="3" fill="#1a5590" />
<text x="379" y="439.9" font-size="7.1" text-anchor="start" fill="#1c1a1b" font-weight="normal" stroke="#1c1a1b" stroke-width="0.12" >CM</text>
<rect x="368" y="506" width="9" height="10.7" fill="#c8102e" />
<line x1="372.5" y1="506" x2="372.5" y2="503.4" stroke="#c8102e" stroke-width="1.2" />
<line x1="369.9" y1="503.4" x2="375.1" y2="503.4" stroke="#c8102e" stroke-width="1.2" />
<rect x="386" y="496.2" width="8.6" height="20.5" fill="#1a5590" />
<line x1="390.3" y1="496.2" x2="390.3" y2="493.8" stroke="#1a5590" stroke-width="1.2" />
<line x1="387.7" y1="493.8" x2="392.90000000000003" y2="493.8" stroke="#1a5590" stroke-width="1.2" />
<rect x="404.5" y="476.6" width="8.7" height="40.1" fill="#c8102e" />
<line x1="408.8" y1="476.6" x2="408.8" y2="470" stroke="#c8102e" stroke-width="1.2" />
<line x1="406.2" y1="470" x2="411.40000000000003" y2="470" stroke="#c8102e" stroke-width="1.2" />
<rect x="422" y="458.5" width="8.8" height="58.2" fill="#1a5590" />
<line x1="426.4" y1="458.5" x2="426.4" y2="457" stroke="#1a5590" stroke-width="1.2" />
<line x1="423.79999999999995" y1="457" x2="429.0" y2="457" stroke="#1a5590" stroke-width="1.2" />
<polyline points="372.5,502.5 372.5,488 390.5,488 390.5,493.2" fill="none" stroke="#1c1a1b" stroke-width="1.0"/>
<text x="381.4" y="485.3" font-size="7.5" text-anchor="middle" fill="#1c1a1b" font-weight="normal" stroke="#1c1a1b" stroke-width="0.12" >ns</text>
<polyline points="408.8,469 408.8,451 426.6,451 426.6,455.5" fill="none" stroke="#1c1a1b" stroke-width="1.0"/>
<text x="417.8" y="451.5" font-size="7.5" text-anchor="middle" fill="#1c1a1b" font-weight="normal" stroke="#1c1a1b" stroke-width="0.12" >**</text>
<text x="381.4" y="528" font-size="7.2" text-anchor="middle" fill="#1c1a1b" font-weight="normal" stroke="#1c1a1b" stroke-width="0.12" >Exo</text>
<text x="417.8" y="528" font-size="7.2" text-anchor="middle" fill="#1c1a1b" font-weight="normal" stroke="#1c1a1b" stroke-width="0.12" >Endo</text>
<text x="455.2" y="406.5" font-size="11.5" text-anchor="start" fill="#000" font-weight="bold" >I</text>
<text x="498.5" y="416.3" font-size="9.7" text-anchor="middle" fill="#1c1a1b" font-weight="normal" stroke="#1c1a1b" stroke-width="0.12" >HS-5</text>
<line x1="483.6" y1="420" x2="483.6" y2="517.325" stroke="#1c1a1b" stroke-width="1.25" />
<line x1="480.20000000000005" y1="424.4" x2="483.6" y2="424.4" stroke="#1c1a1b" stroke-width="1.25" />
<text x="477.20000000000005" y="427.20799999999997" font-size="7.8" text-anchor="end" fill="#1c1a1b" font-weight="normal" stroke="#1c1a1b" stroke-width="0.12" >20</text>
<line x1="480.20000000000005" y1="447.5" x2="483.6" y2="447.5" stroke="#1c1a1b" stroke-width="1.25" />
<text x="477.20000000000005" y="450.308" font-size="7.8" text-anchor="end" fill="#1c1a1b" font-weight="normal" stroke="#1c1a1b" stroke-width="0.12" >15</text>
<line x1="480.20000000000005" y1="470.6" x2="483.6" y2="470.6" stroke="#1c1a1b" stroke-width="1.25" />
<text x="477.20000000000005" y="473.408" font-size="7.8" text-anchor="end" fill="#1c1a1b" font-weight="normal" stroke="#1c1a1b" stroke-width="0.12" >10</text>
<line x1="480.20000000000005" y1="493.6" x2="483.6" y2="493.6" stroke="#1c1a1b" stroke-width="1.25" />
<text x="477.20000000000005" y="496.408" font-size="7.8" text-anchor="end" fill="#1c1a1b" font-weight="normal" stroke="#1c1a1b" stroke-width="0.12" >5</text>
<line x1="480.20000000000005" y1="516.7" x2="483.6" y2="516.7" stroke="#1c1a1b" stroke-width="1.25" />
<text x="477.20000000000005" y="519.508" font-size="7.8" text-anchor="end" fill="#1c1a1b" font-weight="normal" stroke="#1c1a1b" stroke-width="0.12" >0</text>
<line x1="480.6" y1="516.7" x2="520" y2="516.7" stroke="#1c1a1b" stroke-width="1.25" />
<line x1="493.6" y1="516.7" x2="493.6" y2="519.9000000000001" stroke="#1c1a1b" stroke-width="1.25" />
<line x1="510.6" y1="516.7" x2="510.6" y2="519.9000000000001" stroke="#1c1a1b" stroke-width="1.25" />
<rect x="489.3" y="442.4" width="8.6" height="74.3" fill="#c8102e" />
<line x1="493.6" y1="442.4" x2="493.6" y2="435" stroke="#c8102e" stroke-width="1.2" />
<line x1="491.0" y1="435" x2="496.20000000000005" y2="435" stroke="#c8102e" stroke-width="1.2" />
<rect x="506.2" y="465.6" width="8.8" height="51.1" fill="#1a5590" />
<line x1="510.6" y1="465.6" x2="510.6" y2="458" stroke="#1a5590" stroke-width="1.2" />
<line x1="508.0" y1="458" x2="513.2" y2="458" stroke="#1a5590" stroke-width="1.2" />
<polyline points="493.6,434 493.6,430 510.6,430 510.6,455" fill="none" stroke="#1c1a1b" stroke-width="1.0"/>
<text x="502" y="430.5" font-size="7.5" text-anchor="middle" fill="#1c1a1b" font-weight="normal" stroke="#1c1a1b" stroke-width="0.12" >**</text>
<text x="493.6" y="528.5" font-size="7.5" text-anchor="middle" fill="#1c1a1b" font-weight="normal" stroke="#1c1a1b" stroke-width="0.12" >0</text>
<text x="510.8" y="528.5" font-size="7.5" text-anchor="middle" fill="#1c1a1b" font-weight="normal" stroke="#1c1a1b" stroke-width="0.12" >100</text>
<text transform="translate(501.7 540.2) rotate(0) scale(0.8278 1)" x="0" y="0" font-size="8.6" text-anchor="middle" fill="#1c1a1b" stroke="#1c1a1b" stroke-width="0.3">SSO [µM]</text>
<text transform="translate(463.8 470.2) rotate(-90) scale(0.7795 1)" x="0" y="0" font-size="8.6" text-anchor="middle" fill="#1c1a1b" stroke="#1c1a1b" stroke-width="0.3">S100A8/A9<tspan font-size="5.33" dy="-3.1">hi</tspan><tspan dy="3.1">&#8203;</tspan> frequency [%]</text>
</svg>
</body></html>
